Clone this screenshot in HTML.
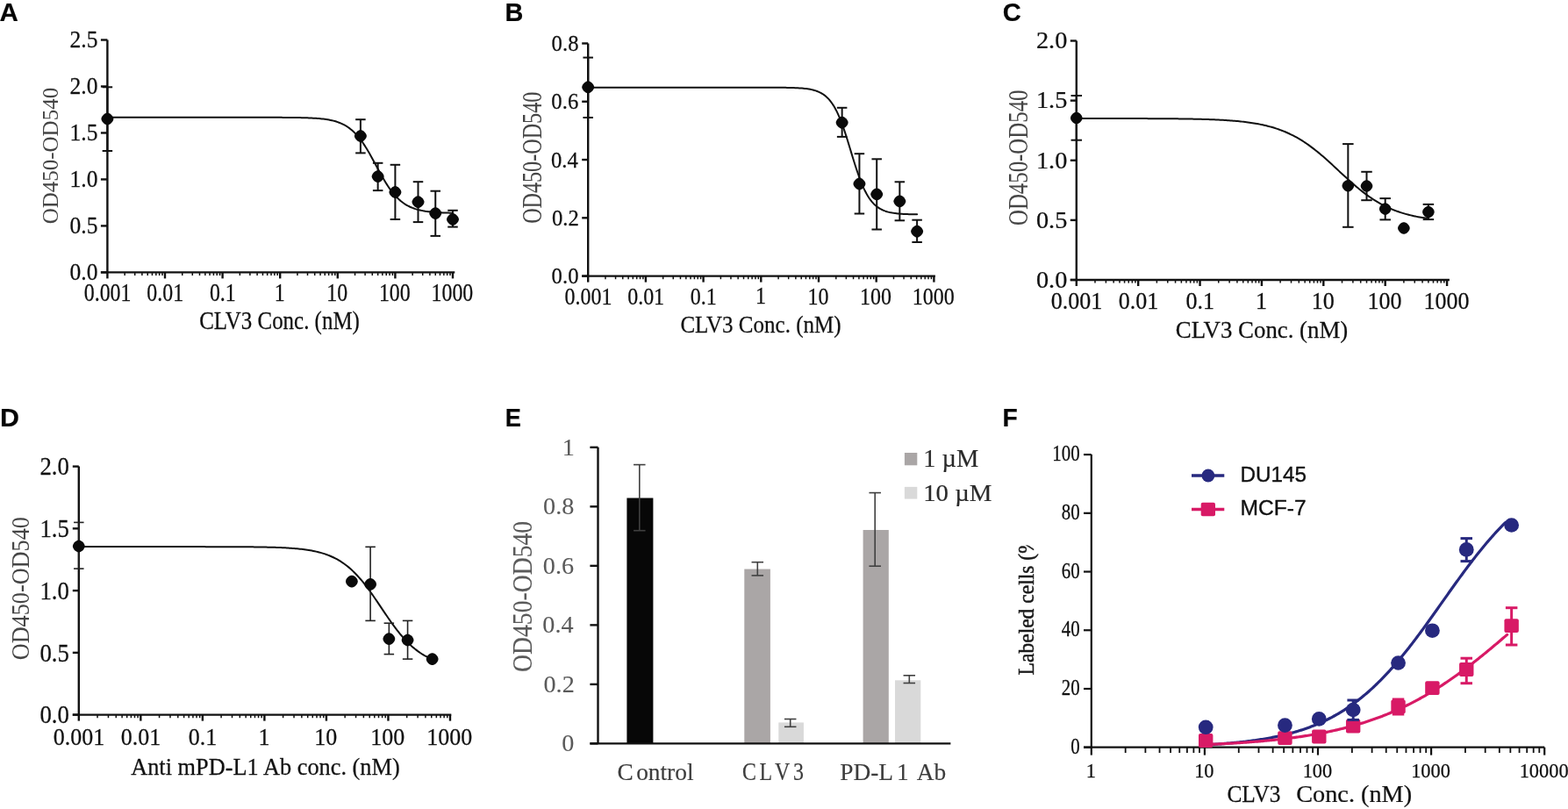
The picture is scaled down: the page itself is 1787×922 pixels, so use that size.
<!DOCTYPE html>
<html><head><meta charset="utf-8"><title>Figure</title>
<style>html,body{margin:0;padding:0;background:#fff;}svg{display:block;}</style></head>
<body><svg width="1787" height="922" viewBox="0 0 1787 922">
<rect width="1787" height="922" fill="#fff"/>
<text transform="matrix(0.29552 0 0 0.29855 -0.54 23.90)" font-family="Liberation Sans, sans-serif" font-weight="bold" font-size="100" fill="#050505" stroke="#050505" stroke-width="0.67" stroke-linejoin="round">A</text>
<text transform="matrix(0.28852 0 0 0.29710 575.62 23.90)" font-family="Liberation Sans, sans-serif" font-weight="bold" font-size="100" fill="#050505" stroke="#050505" stroke-width="0.68" stroke-linejoin="round">B</text>
<text transform="matrix(0.29160 0 0 0.30423 1142.63 24.40)" font-family="Liberation Sans, sans-serif" font-weight="bold" font-size="100" fill="#050505" stroke="#050505" stroke-width="0.67" stroke-linejoin="round">C</text>
<text transform="matrix(0.30407 0 0 0.29710 0.12 486.20)" font-family="Liberation Sans, sans-serif" font-weight="bold" font-size="100" fill="#050505" stroke="#050505" stroke-width="0.67" stroke-linejoin="round">D</text>
<text transform="matrix(0.27257 0 0 0.29420 575.83 486.20)" font-family="Liberation Sans, sans-serif" font-weight="bold" font-size="100" fill="#050505" stroke="#050505" stroke-width="0.71" stroke-linejoin="round">E</text>
<text transform="matrix(0.28235 0 0 0.29635 1142.46 486.35)" font-family="Liberation Sans, sans-serif" font-weight="bold" font-size="100" fill="#050505" stroke="#050505" stroke-width="0.69" stroke-linejoin="round">F</text>
<path d="M122.40,133.80 L124.04,133.80 L125.68,133.80 L127.32,133.80 L128.96,133.80 L130.60,133.80 L132.24,133.80 L133.88,133.80 L135.52,133.80 L137.16,133.80 L138.80,133.80 L140.44,133.80 L142.08,133.80 L143.72,133.80 L145.36,133.80 L147.00,133.80 L148.64,133.80 L150.28,133.80 L151.92,133.80 L153.56,133.80 L155.20,133.80 L156.84,133.80 L158.48,133.80 L160.12,133.80 L161.76,133.80 L163.40,133.80 L165.04,133.80 L166.68,133.80 L168.32,133.80 L169.96,133.80 L171.60,133.80 L173.24,133.80 L174.88,133.80 L176.52,133.80 L178.16,133.80 L179.80,133.80 L181.44,133.80 L183.08,133.80 L184.72,133.80 L186.36,133.80 L188.00,133.80 L189.64,133.80 L191.28,133.80 L192.92,133.80 L194.56,133.80 L196.20,133.80 L197.84,133.80 L199.48,133.80 L201.12,133.80 L202.76,133.80 L204.40,133.80 L206.04,133.80 L207.68,133.80 L209.32,133.80 L210.96,133.80 L212.60,133.80 L214.24,133.80 L215.88,133.80 L217.52,133.80 L219.16,133.80 L220.80,133.80 L222.44,133.80 L224.08,133.80 L225.72,133.80 L227.36,133.80 L229.00,133.80 L230.64,133.80 L232.28,133.80 L233.92,133.80 L235.56,133.80 L237.20,133.80 L238.84,133.80 L240.48,133.80 L242.12,133.80 L243.76,133.80 L245.40,133.80 L247.04,133.80 L248.68,133.80 L250.32,133.80 L251.96,133.80 L253.60,133.80 L255.24,133.80 L256.88,133.80 L258.52,133.80 L260.16,133.80 L261.80,133.80 L263.44,133.80 L265.08,133.80 L266.72,133.80 L268.36,133.80 L270.00,133.80 L271.64,133.80 L273.28,133.80 L274.92,133.80 L276.56,133.80 L278.20,133.80 L279.84,133.80 L281.48,133.80 L283.12,133.81 L284.76,133.81 L286.40,133.81 L288.04,133.81 L289.68,133.81 L291.32,133.81 L292.96,133.81 L294.60,133.81 L296.24,133.81 L297.88,133.81 L299.52,133.82 L301.16,133.82 L302.80,133.82 L304.44,133.82 L306.08,133.83 L307.72,133.83 L309.36,133.83 L311.00,133.84 L312.64,133.84 L314.28,133.85 L315.92,133.85 L317.56,133.86 L319.20,133.86 L320.84,133.87 L322.48,133.88 L324.12,133.89 L325.76,133.90 L327.40,133.91 L329.04,133.92 L330.68,133.94 L332.32,133.96 L333.96,133.97 L335.60,134.00 L337.24,134.02 L338.88,134.04 L340.52,134.07 L342.16,134.10 L343.80,134.14 L345.44,134.18 L347.08,134.23 L348.72,134.28 L350.36,134.33 L352.00,134.39 L353.64,134.46 L355.28,134.54 L356.92,134.63 L358.56,134.73 L360.20,134.83 L361.84,134.95 L363.48,135.09 L365.12,135.24 L366.76,135.41 L368.40,135.59 L370.04,135.80 L371.68,136.03 L373.32,136.29 L374.96,136.58 L376.60,136.90 L378.24,137.25 L379.88,137.65 L381.52,138.08 L383.16,138.57 L384.80,139.10 L386.44,139.70 L388.08,140.35 L389.72,141.07 L391.36,141.87 L393.00,142.74 L394.64,143.71 L396.28,144.76 L397.92,145.91 L399.56,147.17 L401.20,148.53 L402.84,150.01 L404.48,151.62 L406.12,153.34 L407.76,155.20 L409.40,157.19 L411.04,159.31 L412.68,161.55 L414.32,163.93 L415.96,166.42 L417.60,169.04 L419.24,171.75 L420.88,174.56 L422.52,177.45 L424.16,180.41 L425.80,183.41 L427.44,186.45 L429.08,189.50 L430.72,192.54 L432.36,195.55 L434.00,198.53 L435.64,201.44 L437.28,204.27 L438.92,207.01 L440.56,209.66 L442.20,212.18 L443.84,214.59 L445.48,216.88 L447.12,219.03 L448.76,221.06 L450.40,222.95 L452.04,224.71 L453.68,226.35 L455.32,227.87 L456.96,229.26 L458.60,230.55 L460.24,231.73 L461.88,232.81 L463.52,233.80 L465.16,234.69 L466.80,235.51 L468.44,236.25 L470.08,236.93 L471.72,237.54 L473.36,238.09 L475.00,238.59 L476.64,239.04 L478.28,239.44 L479.92,239.81 L481.56,240.13 L483.20,240.43 L484.84,240.70 L486.48,240.93 L488.12,241.15 L489.76,241.34 L491.40,241.51 L493.04,241.67 L494.68,241.81 L496.32,241.93 L497.96,242.05 L499.60,242.15 L501.24,242.23 L502.88,242.32 L504.52,242.39 L506.16,242.45 L507.80,242.51 L509.44,242.56 L511.08,242.61 L512.72,242.65 L514.36,242.69 L516.00,242.72" stroke="#111" stroke-width="2" fill="none" stroke-linejoin="round" stroke-linecap="round"/>
<line x1="122.4" y1="45.5" x2="122.4" y2="310.4" stroke="#111" stroke-width="2.4" stroke-linecap="butt"/>
<line x1="114.9" y1="310.4" x2="518.3" y2="310.4" stroke="#111" stroke-width="2.4" stroke-linecap="butt"/>
<line x1="114.9" y1="310.4" x2="122.4" y2="310.4" stroke="#111" stroke-width="2.4" stroke-linecap="butt"/>
<line x1="114.9" y1="257.42" x2="122.4" y2="257.42" stroke="#111" stroke-width="2.4" stroke-linecap="butt"/>
<line x1="114.9" y1="204.44" x2="122.4" y2="204.44" stroke="#111" stroke-width="2.4" stroke-linecap="butt"/>
<line x1="114.9" y1="151.46" x2="122.4" y2="151.46" stroke="#111" stroke-width="2.4" stroke-linecap="butt"/>
<line x1="114.9" y1="98.48" x2="122.4" y2="98.48" stroke="#111" stroke-width="2.4" stroke-linecap="butt"/>
<line x1="114.9" y1="45.5" x2="122.4" y2="45.5" stroke="#111" stroke-width="2.4" stroke-linecap="butt"/>
<line x1="122.4" y1="310.4" x2="122.4" y2="317.4" stroke="#111" stroke-width="2.4" stroke-linecap="butt"/>
<line x1="142.15" y1="310.4" x2="142.15" y2="314" stroke="#111" stroke-width="1.5" stroke-linecap="butt"/>
<line x1="153.7" y1="310.4" x2="153.7" y2="314" stroke="#111" stroke-width="1.5" stroke-linecap="butt"/>
<line x1="161.9" y1="310.4" x2="161.9" y2="314" stroke="#111" stroke-width="1.5" stroke-linecap="butt"/>
<line x1="168.25" y1="310.4" x2="168.25" y2="314" stroke="#111" stroke-width="1.5" stroke-linecap="butt"/>
<line x1="173.45" y1="310.4" x2="173.45" y2="314" stroke="#111" stroke-width="1.5" stroke-linecap="butt"/>
<line x1="177.84" y1="310.4" x2="177.84" y2="314" stroke="#111" stroke-width="1.5" stroke-linecap="butt"/>
<line x1="181.64" y1="310.4" x2="181.64" y2="314" stroke="#111" stroke-width="1.5" stroke-linecap="butt"/>
<line x1="185" y1="310.4" x2="185" y2="314" stroke="#111" stroke-width="1.5" stroke-linecap="butt"/>
<line x1="188" y1="310.4" x2="188" y2="317.4" stroke="#111" stroke-width="2.4" stroke-linecap="butt"/>
<line x1="207.75" y1="310.4" x2="207.75" y2="314" stroke="#111" stroke-width="1.5" stroke-linecap="butt"/>
<line x1="219.3" y1="310.4" x2="219.3" y2="314" stroke="#111" stroke-width="1.5" stroke-linecap="butt"/>
<line x1="227.5" y1="310.4" x2="227.5" y2="314" stroke="#111" stroke-width="1.5" stroke-linecap="butt"/>
<line x1="233.85" y1="310.4" x2="233.85" y2="314" stroke="#111" stroke-width="1.5" stroke-linecap="butt"/>
<line x1="239.05" y1="310.4" x2="239.05" y2="314" stroke="#111" stroke-width="1.5" stroke-linecap="butt"/>
<line x1="243.44" y1="310.4" x2="243.44" y2="314" stroke="#111" stroke-width="1.5" stroke-linecap="butt"/>
<line x1="247.24" y1="310.4" x2="247.24" y2="314" stroke="#111" stroke-width="1.5" stroke-linecap="butt"/>
<line x1="250.6" y1="310.4" x2="250.6" y2="314" stroke="#111" stroke-width="1.5" stroke-linecap="butt"/>
<line x1="253.6" y1="310.4" x2="253.6" y2="317.4" stroke="#111" stroke-width="2.4" stroke-linecap="butt"/>
<line x1="273.35" y1="310.4" x2="273.35" y2="314" stroke="#111" stroke-width="1.5" stroke-linecap="butt"/>
<line x1="284.9" y1="310.4" x2="284.9" y2="314" stroke="#111" stroke-width="1.5" stroke-linecap="butt"/>
<line x1="293.1" y1="310.4" x2="293.1" y2="314" stroke="#111" stroke-width="1.5" stroke-linecap="butt"/>
<line x1="299.45" y1="310.4" x2="299.45" y2="314" stroke="#111" stroke-width="1.5" stroke-linecap="butt"/>
<line x1="304.65" y1="310.4" x2="304.65" y2="314" stroke="#111" stroke-width="1.5" stroke-linecap="butt"/>
<line x1="309.04" y1="310.4" x2="309.04" y2="314" stroke="#111" stroke-width="1.5" stroke-linecap="butt"/>
<line x1="312.84" y1="310.4" x2="312.84" y2="314" stroke="#111" stroke-width="1.5" stroke-linecap="butt"/>
<line x1="316.2" y1="310.4" x2="316.2" y2="314" stroke="#111" stroke-width="1.5" stroke-linecap="butt"/>
<line x1="319.2" y1="310.4" x2="319.2" y2="317.4" stroke="#111" stroke-width="2.4" stroke-linecap="butt"/>
<line x1="338.95" y1="310.4" x2="338.95" y2="314" stroke="#111" stroke-width="1.5" stroke-linecap="butt"/>
<line x1="350.5" y1="310.4" x2="350.5" y2="314" stroke="#111" stroke-width="1.5" stroke-linecap="butt"/>
<line x1="358.7" y1="310.4" x2="358.7" y2="314" stroke="#111" stroke-width="1.5" stroke-linecap="butt"/>
<line x1="365.05" y1="310.4" x2="365.05" y2="314" stroke="#111" stroke-width="1.5" stroke-linecap="butt"/>
<line x1="370.25" y1="310.4" x2="370.25" y2="314" stroke="#111" stroke-width="1.5" stroke-linecap="butt"/>
<line x1="374.64" y1="310.4" x2="374.64" y2="314" stroke="#111" stroke-width="1.5" stroke-linecap="butt"/>
<line x1="378.44" y1="310.4" x2="378.44" y2="314" stroke="#111" stroke-width="1.5" stroke-linecap="butt"/>
<line x1="381.8" y1="310.4" x2="381.8" y2="314" stroke="#111" stroke-width="1.5" stroke-linecap="butt"/>
<line x1="384.8" y1="310.4" x2="384.8" y2="317.4" stroke="#111" stroke-width="2.4" stroke-linecap="butt"/>
<line x1="404.55" y1="310.4" x2="404.55" y2="314" stroke="#111" stroke-width="1.5" stroke-linecap="butt"/>
<line x1="416.1" y1="310.4" x2="416.1" y2="314" stroke="#111" stroke-width="1.5" stroke-linecap="butt"/>
<line x1="424.3" y1="310.4" x2="424.3" y2="314" stroke="#111" stroke-width="1.5" stroke-linecap="butt"/>
<line x1="430.65" y1="310.4" x2="430.65" y2="314" stroke="#111" stroke-width="1.5" stroke-linecap="butt"/>
<line x1="435.85" y1="310.4" x2="435.85" y2="314" stroke="#111" stroke-width="1.5" stroke-linecap="butt"/>
<line x1="440.24" y1="310.4" x2="440.24" y2="314" stroke="#111" stroke-width="1.5" stroke-linecap="butt"/>
<line x1="444.04" y1="310.4" x2="444.04" y2="314" stroke="#111" stroke-width="1.5" stroke-linecap="butt"/>
<line x1="447.4" y1="310.4" x2="447.4" y2="314" stroke="#111" stroke-width="1.5" stroke-linecap="butt"/>
<line x1="450.4" y1="310.4" x2="450.4" y2="317.4" stroke="#111" stroke-width="2.4" stroke-linecap="butt"/>
<line x1="470.15" y1="310.4" x2="470.15" y2="314" stroke="#111" stroke-width="1.5" stroke-linecap="butt"/>
<line x1="481.7" y1="310.4" x2="481.7" y2="314" stroke="#111" stroke-width="1.5" stroke-linecap="butt"/>
<line x1="489.9" y1="310.4" x2="489.9" y2="314" stroke="#111" stroke-width="1.5" stroke-linecap="butt"/>
<line x1="496.25" y1="310.4" x2="496.25" y2="314" stroke="#111" stroke-width="1.5" stroke-linecap="butt"/>
<line x1="501.45" y1="310.4" x2="501.45" y2="314" stroke="#111" stroke-width="1.5" stroke-linecap="butt"/>
<line x1="505.84" y1="310.4" x2="505.84" y2="314" stroke="#111" stroke-width="1.5" stroke-linecap="butt"/>
<line x1="509.64" y1="310.4" x2="509.64" y2="314" stroke="#111" stroke-width="1.5" stroke-linecap="butt"/>
<line x1="513" y1="310.4" x2="513" y2="314" stroke="#111" stroke-width="1.5" stroke-linecap="butt"/>
<line x1="516" y1="310.4" x2="516" y2="317.4" stroke="#111" stroke-width="2.4" stroke-linecap="butt"/>
<line x1="122.4" y1="99.3" x2="122.4" y2="172" stroke="#111" stroke-width="2" stroke-linecap="butt"/>
<line x1="116.65" y1="99.3" x2="128.15" y2="99.3" stroke="#111" stroke-width="2" stroke-linecap="butt"/>
<line x1="116.65" y1="172" x2="128.15" y2="172" stroke="#111" stroke-width="2" stroke-linecap="butt"/>
<line x1="410.9" y1="136.2" x2="410.9" y2="174.4" stroke="#111" stroke-width="2" stroke-linecap="butt"/>
<line x1="405.15" y1="136.2" x2="416.65" y2="136.2" stroke="#111" stroke-width="2" stroke-linecap="butt"/>
<line x1="405.15" y1="174.4" x2="416.65" y2="174.4" stroke="#111" stroke-width="2" stroke-linecap="butt"/>
<line x1="430.65" y1="185.8" x2="430.65" y2="217.1" stroke="#111" stroke-width="2" stroke-linecap="butt"/>
<line x1="424.9" y1="185.8" x2="436.4" y2="185.8" stroke="#111" stroke-width="2" stroke-linecap="butt"/>
<line x1="424.9" y1="217.1" x2="436.4" y2="217.1" stroke="#111" stroke-width="2" stroke-linecap="butt"/>
<line x1="450.4" y1="187.8" x2="450.4" y2="250" stroke="#111" stroke-width="2" stroke-linecap="butt"/>
<line x1="444.65" y1="187.8" x2="456.15" y2="187.8" stroke="#111" stroke-width="2" stroke-linecap="butt"/>
<line x1="444.65" y1="250" x2="456.15" y2="250" stroke="#111" stroke-width="2" stroke-linecap="butt"/>
<line x1="476.5" y1="207.2" x2="476.5" y2="253.1" stroke="#111" stroke-width="2" stroke-linecap="butt"/>
<line x1="470.75" y1="207.2" x2="482.25" y2="207.2" stroke="#111" stroke-width="2" stroke-linecap="butt"/>
<line x1="470.75" y1="253.1" x2="482.25" y2="253.1" stroke="#111" stroke-width="2" stroke-linecap="butt"/>
<line x1="496.25" y1="217.7" x2="496.25" y2="268.9" stroke="#111" stroke-width="2" stroke-linecap="butt"/>
<line x1="490.5" y1="217.7" x2="502" y2="217.7" stroke="#111" stroke-width="2" stroke-linecap="butt"/>
<line x1="490.5" y1="268.9" x2="502" y2="268.9" stroke="#111" stroke-width="2" stroke-linecap="butt"/>
<line x1="516" y1="239.8" x2="516" y2="258.6" stroke="#111" stroke-width="2" stroke-linecap="butt"/>
<line x1="510.25" y1="239.8" x2="521.75" y2="239.8" stroke="#111" stroke-width="2" stroke-linecap="butt"/>
<line x1="510.25" y1="258.6" x2="521.75" y2="258.6" stroke="#111" stroke-width="2" stroke-linecap="butt"/>
<path d="M129.40,135.50 L129.33,136.09 L129.11,136.86 L128.76,137.68 L128.28,138.52 L127.69,139.34 L127.00,140.10 L126.24,140.79 L125.42,141.38 L124.58,141.86 L123.76,142.21 L122.99,142.43 L122.40,142.50 L121.81,142.43 L121.04,142.21 L120.22,141.86 L119.38,141.38 L118.56,140.79 L117.80,140.10 L117.11,139.34 L116.52,138.52 L116.04,137.68 L115.69,136.86 L115.47,136.09 L115.40,135.50 L115.47,134.91 L115.69,134.14 L116.04,133.32 L116.52,132.48 L117.11,131.66 L117.80,130.90 L118.56,130.21 L119.38,129.62 L120.22,129.14 L121.04,128.79 L121.81,128.57 L122.40,128.50 L122.99,128.57 L123.76,128.79 L124.58,129.14 L125.42,129.62 L126.24,130.21 L127.00,130.90 L127.69,131.66 L128.28,132.48 L128.76,133.32 L129.11,134.14 L129.33,134.91Z" fill="#0a0a0a"/>
<path d="M417.90,155.00 L417.83,155.59 L417.62,156.36 L417.26,157.18 L416.78,158.02 L416.19,158.84 L415.50,159.60 L414.74,160.29 L413.93,160.88 L413.09,161.36 L412.26,161.71 L411.50,161.93 L410.90,162.00 L410.31,161.93 L409.54,161.71 L408.72,161.36 L407.88,160.88 L407.07,160.29 L406.31,159.60 L405.62,158.84 L405.02,158.02 L404.55,157.18 L404.19,156.36 L403.98,155.59 L403.90,155.00 L403.98,154.41 L404.19,153.64 L404.55,152.82 L405.02,151.98 L405.62,151.16 L406.31,150.40 L407.07,149.71 L407.88,149.12 L408.72,148.64 L409.54,148.29 L410.31,148.07 L410.90,148.00 L411.50,148.07 L412.26,148.29 L413.09,148.64 L413.93,149.12 L414.74,149.71 L415.50,150.40 L416.19,151.16 L416.78,151.98 L417.26,152.82 L417.62,153.64 L417.83,154.41Z" fill="#0a0a0a"/>
<path d="M437.65,201.10 L437.58,201.69 L437.36,202.46 L437.01,203.28 L436.53,204.12 L435.94,204.94 L435.25,205.70 L434.49,206.39 L433.67,206.98 L432.84,207.46 L432.01,207.81 L431.25,208.03 L430.65,208.10 L430.06,208.03 L429.29,207.81 L428.47,207.46 L427.63,206.98 L426.82,206.39 L426.05,205.70 L425.37,204.94 L424.77,204.12 L424.29,203.28 L423.94,202.46 L423.72,201.69 L423.65,201.10 L423.72,200.51 L423.94,199.74 L424.29,198.92 L424.77,198.08 L425.37,197.26 L426.05,196.50 L426.82,195.81 L427.63,195.22 L428.47,194.74 L429.29,194.39 L430.06,194.17 L430.65,194.10 L431.25,194.17 L432.01,194.39 L432.84,194.74 L433.67,195.22 L434.49,195.81 L435.25,196.50 L435.94,197.26 L436.53,198.08 L437.01,198.92 L437.36,199.74 L437.58,200.51Z" fill="#0a0a0a"/>
<path d="M457.40,219.00 L457.33,219.59 L457.11,220.36 L456.76,221.18 L456.28,222.02 L455.69,222.84 L455.00,223.60 L454.24,224.29 L453.42,224.88 L452.58,225.36 L451.76,225.71 L450.99,225.93 L450.40,226.00 L449.81,225.93 L449.04,225.71 L448.22,225.36 L447.38,224.88 L446.56,224.29 L445.80,223.60 L445.11,222.84 L444.52,222.02 L444.04,221.18 L443.69,220.36 L443.47,219.59 L443.40,219.00 L443.47,218.41 L443.69,217.64 L444.04,216.82 L444.52,215.98 L445.11,215.16 L445.80,214.40 L446.56,213.71 L447.38,213.12 L448.22,212.64 L449.04,212.29 L449.81,212.07 L450.40,212.00 L450.99,212.07 L451.76,212.29 L452.58,212.64 L453.42,213.12 L454.24,213.71 L455.00,214.40 L455.69,215.16 L456.28,215.98 L456.76,216.82 L457.11,217.64 L457.33,218.41Z" fill="#0a0a0a"/>
<path d="M483.50,230.20 L483.43,230.79 L483.22,231.56 L482.86,232.38 L482.38,233.22 L481.79,234.04 L481.10,234.80 L480.34,235.49 L479.53,236.08 L478.69,236.56 L477.86,236.91 L477.10,237.13 L476.50,237.20 L475.91,237.13 L475.14,236.91 L474.32,236.56 L473.48,236.08 L472.67,235.49 L471.91,234.80 L471.22,234.04 L470.62,233.22 L470.15,232.38 L469.79,231.56 L469.58,230.79 L469.50,230.20 L469.58,229.61 L469.79,228.84 L470.15,228.02 L470.62,227.18 L471.22,226.36 L471.91,225.60 L472.67,224.91 L473.48,224.32 L474.32,223.84 L475.14,223.49 L475.91,223.27 L476.50,223.20 L477.10,223.27 L477.86,223.49 L478.69,223.84 L479.53,224.32 L480.34,224.91 L481.10,225.60 L481.79,226.36 L482.38,227.18 L482.86,228.02 L483.22,228.84 L483.43,229.61Z" fill="#0a0a0a"/>
<path d="M503.25,243.10 L503.18,243.69 L502.96,244.46 L502.61,245.28 L502.13,246.12 L501.54,246.94 L500.85,247.70 L500.09,248.39 L499.27,248.98 L498.44,249.46 L497.61,249.81 L496.85,250.03 L496.25,250.10 L495.66,250.03 L494.89,249.81 L494.07,249.46 L493.23,248.98 L492.42,248.39 L491.65,247.70 L490.97,246.94 L490.37,246.12 L489.89,245.28 L489.54,244.46 L489.32,243.69 L489.25,243.10 L489.32,242.51 L489.54,241.74 L489.89,240.92 L490.37,240.08 L490.97,239.26 L491.65,238.50 L492.42,237.81 L493.23,237.22 L494.07,236.74 L494.89,236.39 L495.66,236.17 L496.25,236.10 L496.85,236.17 L497.61,236.39 L498.44,236.74 L499.27,237.22 L500.09,237.81 L500.85,238.50 L501.54,239.26 L502.13,240.08 L502.61,240.92 L502.96,241.74 L503.18,242.51Z" fill="#0a0a0a"/>
<path d="M523.00,250.00 L522.93,250.59 L522.71,251.36 L522.36,252.18 L521.88,253.02 L521.29,253.84 L520.60,254.60 L519.84,255.29 L519.02,255.88 L518.18,256.36 L517.36,256.71 L516.59,256.93 L516.00,257.00 L515.41,256.93 L514.64,256.71 L513.82,256.36 L512.98,255.88 L512.16,255.29 L511.40,254.60 L510.71,253.84 L510.12,253.02 L509.64,252.18 L509.29,251.36 L509.07,250.59 L509.00,250.00 L509.07,249.41 L509.29,248.64 L509.64,247.82 L510.12,246.98 L510.71,246.16 L511.40,245.40 L512.16,244.71 L512.98,244.12 L513.82,243.64 L514.64,243.29 L515.41,243.07 L516.00,243.00 L516.59,243.07 L517.36,243.29 L518.18,243.64 L519.02,244.12 L519.84,244.71 L520.60,245.40 L521.29,246.16 L521.88,246.98 L522.36,247.82 L522.71,248.64 L522.93,249.41Z" fill="#0a0a0a"/>
<text transform="matrix(0.25536 0 0 0.26765 79.60 319.10)" font-family="Liberation Serif, serif" font-size="100" fill="#111" stroke="#111" stroke-width="0.96" stroke-linejoin="round">0.0</text>
<text transform="matrix(0.25536 0 0 0.26765 79.60 266.12)" font-family="Liberation Serif, serif" font-size="100" fill="#111" stroke="#111" stroke-width="0.96" stroke-linejoin="round">0.5</text>
<text transform="matrix(0.25536 0 0 0.26765 79.60 213.14)" font-family="Liberation Serif, serif" font-size="100" fill="#111" stroke="#111" stroke-width="0.96" stroke-linejoin="round">1.0</text>
<text transform="matrix(0.25536 0 0 0.26765 79.60 160.02)" font-family="Liberation Serif, serif" font-size="100" fill="#111" stroke="#111" stroke-width="0.96" stroke-linejoin="round">1.5</text>
<text transform="matrix(0.25536 0 0 0.26765 79.60 107.18)" font-family="Liberation Serif, serif" font-size="100" fill="#111" stroke="#111" stroke-width="0.96" stroke-linejoin="round">2.0</text>
<text transform="matrix(0.25536 0 0 0.26765 79.60 54.13)" font-family="Liberation Serif, serif" font-size="100" fill="#111" stroke="#111" stroke-width="0.96" stroke-linejoin="round">2.5</text>
<text transform="matrix(0.23869 0 0 0.29185 95.79 343.01)" font-family="Liberation Serif, serif" font-size="100" fill="#111" stroke="#111" stroke-width="0.95" stroke-linejoin="round">0.001</text>
<text transform="matrix(0.23869 0 0 0.29185 167.35 343.01)" font-family="Liberation Serif, serif" font-size="100" fill="#111" stroke="#111" stroke-width="0.95" stroke-linejoin="round">0.01</text>
<text transform="matrix(0.23869 0 0 0.29185 238.92 343.01)" font-family="Liberation Serif, serif" font-size="100" fill="#111" stroke="#111" stroke-width="0.95" stroke-linejoin="round">0.1</text>
<text transform="matrix(0.23869 0 0 0.29185 312.87 342.72)" font-family="Liberation Serif, serif" font-size="100" fill="#111" stroke="#111" stroke-width="0.95" stroke-linejoin="round">1</text>
<text transform="matrix(0.23869 0 0 0.29185 372.27 343.01)" font-family="Liberation Serif, serif" font-size="100" fill="#111" stroke="#111" stroke-width="0.95" stroke-linejoin="round">10</text>
<text transform="matrix(0.23869 0 0 0.29185 431.90 343.01)" font-family="Liberation Serif, serif" font-size="100" fill="#111" stroke="#111" stroke-width="0.95" stroke-linejoin="round">100</text>
<text transform="matrix(0.23869 0 0 0.29185 491.53 343.01)" font-family="Liberation Serif, serif" font-size="100" fill="#111" stroke="#111" stroke-width="0.95" stroke-linejoin="round">1000</text>
<text transform="matrix(0 -0.24996 0.25185 0 65.55 255.30)" font-family="Liberation Serif, serif" font-size="100" fill="#454545">OD450-OD540</text>
<text transform="matrix(0.24945 0 0 0.28741 227.20 375.47)" font-family="Liberation Serif, serif" font-size="100" fill="#111" stroke="#111" stroke-width="0.93" stroke-linejoin="round">CLV3 Conc. (nM)</text>
<path d="M670.20,99.70 L671.76,99.70 L673.32,99.70 L674.88,99.70 L676.44,99.70 L678.50,99.70 L680.06,99.70 L681.62,99.70 L683.18,99.70 L684.74,99.70 L686.30,99.70 L687.86,99.70 L689.42,99.70 L690.98,99.70 L692.54,99.70 L694.10,99.70 L695.66,99.70 L697.22,99.70 L698.78,99.70 L700.34,99.70 L701.90,99.70 L703.46,99.70 L705.02,99.70 L706.58,99.70 L708.14,99.70 L709.70,99.70 L711.26,99.70 L712.82,99.70 L714.38,99.70 L715.94,99.70 L717.50,99.70 L719.06,99.70 L720.62,99.70 L722.18,99.70 L723.74,99.70 L725.30,99.70 L726.86,99.70 L728.42,99.70 L729.98,99.70 L731.54,99.70 L733.10,99.70 L734.66,99.70 L736.22,99.70 L737.78,99.70 L739.34,99.70 L740.90,99.70 L742.46,99.70 L744.02,99.70 L745.58,99.70 L747.14,99.70 L748.70,99.70 L750.26,99.70 L751.82,99.70 L753.38,99.70 L754.95,99.70 L756.51,99.70 L758.07,99.70 L759.63,99.70 L761.19,99.70 L762.75,99.70 L764.31,99.70 L765.87,99.70 L767.43,99.70 L768.99,99.70 L770.55,99.70 L772.11,99.70 L773.67,99.70 L775.23,99.70 L776.79,99.70 L778.35,99.70 L779.91,99.70 L781.47,99.70 L783.03,99.70 L784.59,99.70 L786.15,99.70 L787.71,99.70 L789.27,99.70 L790.83,99.70 L792.39,99.70 L793.95,99.70 L795.51,99.70 L797.07,99.70 L798.63,99.70 L800.19,99.70 L801.75,99.70 L803.31,99.70 L804.87,99.70 L806.43,99.70 L807.99,99.70 L809.55,99.70 L811.11,99.70 L812.67,99.70 L814.23,99.70 L815.79,99.70 L817.35,99.70 L818.91,99.70 L820.47,99.70 L822.03,99.70 L823.59,99.70 L825.15,99.70 L826.71,99.70 L828.27,99.70 L829.83,99.70 L831.39,99.70 L832.95,99.70 L834.51,99.70 L836.07,99.70 L837.63,99.70 L839.19,99.70 L840.75,99.70 L842.31,99.70 L843.87,99.70 L845.43,99.70 L846.99,99.70 L848.55,99.70 L850.11,99.70 L851.67,99.70 L853.23,99.70 L854.79,99.70 L856.35,99.70 L857.91,99.71 L859.47,99.71 L861.03,99.71 L862.59,99.71 L864.15,99.71 L865.71,99.71 L867.27,99.71 L868.83,99.71 L870.39,99.72 L871.95,99.72 L873.51,99.72 L875.07,99.73 L876.63,99.73 L878.19,99.73 L879.75,99.74 L881.31,99.75 L882.87,99.75 L884.43,99.76 L885.99,99.77 L887.55,99.78 L889.11,99.79 L890.67,99.81 L892.23,99.83 L893.79,99.84 L895.35,99.87 L896.91,99.89 L898.47,99.92 L900.03,99.95 L901.59,99.99 L903.15,100.04 L904.71,100.09 L906.27,100.15 L907.83,100.22 L909.39,100.30 L910.95,100.39 L912.51,100.49 L914.07,100.61 L915.63,100.75 L917.19,100.91 L918.75,101.09 L920.31,101.30 L921.87,101.54 L923.44,101.82 L925.00,102.14 L926.56,102.50 L928.12,102.92 L929.68,103.40 L931.24,103.95 L932.80,104.58 L934.36,105.29 L935.92,106.11 L937.48,107.04 L939.04,108.09 L940.60,109.29 L942.16,110.64 L943.72,112.17 L945.28,113.89 L946.84,115.82 L948.40,117.97 L949.96,120.36 L951.52,123.01 L953.08,125.93 L954.64,129.12 L956.20,132.59 L957.76,136.34 L959.32,140.37 L960.88,144.65 L962.44,149.17 L964.00,153.90 L965.56,158.80 L967.12,163.83 L968.68,168.94 L970.24,174.09 L971.80,179.21 L973.36,184.26 L974.92,189.20 L976.48,193.97 L978.04,198.54 L979.60,202.88 L981.16,206.97 L982.72,210.78 L984.28,214.32 L985.84,217.57 L987.40,220.55 L988.96,223.26 L990.52,225.71 L992.08,227.91 L993.64,229.89 L995.20,231.65 L996.76,233.22 L998.32,234.62 L999.88,235.85 L1001.44,236.93 L1003.00,237.89 L1004.56,238.73 L1006.12,239.47 L1007.68,240.12 L1009.24,240.68 L1010.80,241.18 L1012.36,241.61 L1013.92,241.98 L1015.48,242.31 L1017.04,242.60 L1018.60,242.85 L1020.16,243.06 L1021.72,243.25 L1023.28,243.42 L1024.84,243.56 L1026.40,243.68 L1027.96,243.79 L1029.52,243.88 L1031.08,243.97 L1032.64,244.04 L1034.20,244.10 L1035.76,244.15 L1037.32,244.20 L1038.88,244.24 L1040.44,244.27 L1042.00,244.30 L1043.56,244.33 L1045.12,244.35" stroke="#111" stroke-width="2" fill="none" stroke-linejoin="round" stroke-linecap="round"/>
<line x1="670.2" y1="49.5" x2="670.2" y2="314.6" stroke="#111" stroke-width="2.4" stroke-linecap="butt"/>
<line x1="663.2" y1="314.6" x2="1065.9" y2="314.6" stroke="#111" stroke-width="2.4" stroke-linecap="butt"/>
<line x1="663.2" y1="314.6" x2="670.2" y2="314.6" stroke="#111" stroke-width="2.4" stroke-linecap="butt"/>
<line x1="663.2" y1="248.32" x2="670.2" y2="248.32" stroke="#111" stroke-width="2.4" stroke-linecap="butt"/>
<line x1="663.2" y1="182.04" x2="670.2" y2="182.04" stroke="#111" stroke-width="2.4" stroke-linecap="butt"/>
<line x1="663.2" y1="115.76" x2="670.2" y2="115.76" stroke="#111" stroke-width="2.4" stroke-linecap="butt"/>
<line x1="663.2" y1="49.48" x2="670.2" y2="49.48" stroke="#111" stroke-width="2.4" stroke-linecap="butt"/>
<line x1="670.2" y1="314.6" x2="670.2" y2="321.6" stroke="#111" stroke-width="2.4" stroke-linecap="butt"/>
<line x1="689.98" y1="314.6" x2="689.98" y2="318.2" stroke="#111" stroke-width="1.5" stroke-linecap="butt"/>
<line x1="701.55" y1="314.6" x2="701.55" y2="318.2" stroke="#111" stroke-width="1.5" stroke-linecap="butt"/>
<line x1="709.76" y1="314.6" x2="709.76" y2="318.2" stroke="#111" stroke-width="1.5" stroke-linecap="butt"/>
<line x1="716.12" y1="314.6" x2="716.12" y2="318.2" stroke="#111" stroke-width="1.5" stroke-linecap="butt"/>
<line x1="721.32" y1="314.6" x2="721.32" y2="318.2" stroke="#111" stroke-width="1.5" stroke-linecap="butt"/>
<line x1="725.72" y1="314.6" x2="725.72" y2="318.2" stroke="#111" stroke-width="1.5" stroke-linecap="butt"/>
<line x1="729.53" y1="314.6" x2="729.53" y2="318.2" stroke="#111" stroke-width="1.5" stroke-linecap="butt"/>
<line x1="732.89" y1="314.6" x2="732.89" y2="318.2" stroke="#111" stroke-width="1.5" stroke-linecap="butt"/>
<line x1="735.9" y1="314.6" x2="735.9" y2="321.6" stroke="#111" stroke-width="2.4" stroke-linecap="butt"/>
<line x1="755.68" y1="314.6" x2="755.68" y2="318.2" stroke="#111" stroke-width="1.5" stroke-linecap="butt"/>
<line x1="767.25" y1="314.6" x2="767.25" y2="318.2" stroke="#111" stroke-width="1.5" stroke-linecap="butt"/>
<line x1="775.46" y1="314.6" x2="775.46" y2="318.2" stroke="#111" stroke-width="1.5" stroke-linecap="butt"/>
<line x1="781.82" y1="314.6" x2="781.82" y2="318.2" stroke="#111" stroke-width="1.5" stroke-linecap="butt"/>
<line x1="787.02" y1="314.6" x2="787.02" y2="318.2" stroke="#111" stroke-width="1.5" stroke-linecap="butt"/>
<line x1="791.42" y1="314.6" x2="791.42" y2="318.2" stroke="#111" stroke-width="1.5" stroke-linecap="butt"/>
<line x1="795.23" y1="314.6" x2="795.23" y2="318.2" stroke="#111" stroke-width="1.5" stroke-linecap="butt"/>
<line x1="798.59" y1="314.6" x2="798.59" y2="318.2" stroke="#111" stroke-width="1.5" stroke-linecap="butt"/>
<line x1="801.6" y1="314.6" x2="801.6" y2="321.6" stroke="#111" stroke-width="2.4" stroke-linecap="butt"/>
<line x1="821.38" y1="314.6" x2="821.38" y2="318.2" stroke="#111" stroke-width="1.5" stroke-linecap="butt"/>
<line x1="832.95" y1="314.6" x2="832.95" y2="318.2" stroke="#111" stroke-width="1.5" stroke-linecap="butt"/>
<line x1="841.16" y1="314.6" x2="841.16" y2="318.2" stroke="#111" stroke-width="1.5" stroke-linecap="butt"/>
<line x1="847.52" y1="314.6" x2="847.52" y2="318.2" stroke="#111" stroke-width="1.5" stroke-linecap="butt"/>
<line x1="852.72" y1="314.6" x2="852.72" y2="318.2" stroke="#111" stroke-width="1.5" stroke-linecap="butt"/>
<line x1="857.12" y1="314.6" x2="857.12" y2="318.2" stroke="#111" stroke-width="1.5" stroke-linecap="butt"/>
<line x1="860.93" y1="314.6" x2="860.93" y2="318.2" stroke="#111" stroke-width="1.5" stroke-linecap="butt"/>
<line x1="864.29" y1="314.6" x2="864.29" y2="318.2" stroke="#111" stroke-width="1.5" stroke-linecap="butt"/>
<line x1="867.3" y1="314.6" x2="867.3" y2="321.6" stroke="#111" stroke-width="2.4" stroke-linecap="butt"/>
<line x1="887.08" y1="314.6" x2="887.08" y2="318.2" stroke="#111" stroke-width="1.5" stroke-linecap="butt"/>
<line x1="898.65" y1="314.6" x2="898.65" y2="318.2" stroke="#111" stroke-width="1.5" stroke-linecap="butt"/>
<line x1="906.86" y1="314.6" x2="906.86" y2="318.2" stroke="#111" stroke-width="1.5" stroke-linecap="butt"/>
<line x1="913.22" y1="314.6" x2="913.22" y2="318.2" stroke="#111" stroke-width="1.5" stroke-linecap="butt"/>
<line x1="918.42" y1="314.6" x2="918.42" y2="318.2" stroke="#111" stroke-width="1.5" stroke-linecap="butt"/>
<line x1="922.82" y1="314.6" x2="922.82" y2="318.2" stroke="#111" stroke-width="1.5" stroke-linecap="butt"/>
<line x1="926.63" y1="314.6" x2="926.63" y2="318.2" stroke="#111" stroke-width="1.5" stroke-linecap="butt"/>
<line x1="929.99" y1="314.6" x2="929.99" y2="318.2" stroke="#111" stroke-width="1.5" stroke-linecap="butt"/>
<line x1="933" y1="314.6" x2="933" y2="321.6" stroke="#111" stroke-width="2.4" stroke-linecap="butt"/>
<line x1="952.78" y1="314.6" x2="952.78" y2="318.2" stroke="#111" stroke-width="1.5" stroke-linecap="butt"/>
<line x1="964.35" y1="314.6" x2="964.35" y2="318.2" stroke="#111" stroke-width="1.5" stroke-linecap="butt"/>
<line x1="972.56" y1="314.6" x2="972.56" y2="318.2" stroke="#111" stroke-width="1.5" stroke-linecap="butt"/>
<line x1="978.92" y1="314.6" x2="978.92" y2="318.2" stroke="#111" stroke-width="1.5" stroke-linecap="butt"/>
<line x1="984.12" y1="314.6" x2="984.12" y2="318.2" stroke="#111" stroke-width="1.5" stroke-linecap="butt"/>
<line x1="988.52" y1="314.6" x2="988.52" y2="318.2" stroke="#111" stroke-width="1.5" stroke-linecap="butt"/>
<line x1="992.33" y1="314.6" x2="992.33" y2="318.2" stroke="#111" stroke-width="1.5" stroke-linecap="butt"/>
<line x1="995.69" y1="314.6" x2="995.69" y2="318.2" stroke="#111" stroke-width="1.5" stroke-linecap="butt"/>
<line x1="998.7" y1="314.6" x2="998.7" y2="321.6" stroke="#111" stroke-width="2.4" stroke-linecap="butt"/>
<line x1="1018.48" y1="314.6" x2="1018.48" y2="318.2" stroke="#111" stroke-width="1.5" stroke-linecap="butt"/>
<line x1="1030.05" y1="314.6" x2="1030.05" y2="318.2" stroke="#111" stroke-width="1.5" stroke-linecap="butt"/>
<line x1="1038.26" y1="314.6" x2="1038.26" y2="318.2" stroke="#111" stroke-width="1.5" stroke-linecap="butt"/>
<line x1="1044.62" y1="314.6" x2="1044.62" y2="318.2" stroke="#111" stroke-width="1.5" stroke-linecap="butt"/>
<line x1="1049.82" y1="314.6" x2="1049.82" y2="318.2" stroke="#111" stroke-width="1.5" stroke-linecap="butt"/>
<line x1="1054.22" y1="314.6" x2="1054.22" y2="318.2" stroke="#111" stroke-width="1.5" stroke-linecap="butt"/>
<line x1="1058.03" y1="314.6" x2="1058.03" y2="318.2" stroke="#111" stroke-width="1.5" stroke-linecap="butt"/>
<line x1="1061.39" y1="314.6" x2="1061.39" y2="318.2" stroke="#111" stroke-width="1.5" stroke-linecap="butt"/>
<line x1="1064.4" y1="314.6" x2="1064.4" y2="321.6" stroke="#111" stroke-width="2.4" stroke-linecap="butt"/>
<line x1="670.2" y1="65.6" x2="670.2" y2="134" stroke="#111" stroke-width="2" stroke-linecap="butt"/>
<line x1="664.45" y1="65.6" x2="675.95" y2="65.6" stroke="#111" stroke-width="2" stroke-linecap="butt"/>
<line x1="664.45" y1="134" x2="675.95" y2="134" stroke="#111" stroke-width="2" stroke-linecap="butt"/>
<line x1="959.64" y1="122.8" x2="959.64" y2="155.9" stroke="#111" stroke-width="2" stroke-linecap="butt"/>
<line x1="953.89" y1="122.8" x2="965.39" y2="122.8" stroke="#111" stroke-width="2" stroke-linecap="butt"/>
<line x1="953.89" y1="155.9" x2="965.39" y2="155.9" stroke="#111" stroke-width="2" stroke-linecap="butt"/>
<line x1="979.42" y1="175.2" x2="979.42" y2="243.5" stroke="#111" stroke-width="2" stroke-linecap="butt"/>
<line x1="973.67" y1="175.2" x2="985.17" y2="175.2" stroke="#111" stroke-width="2" stroke-linecap="butt"/>
<line x1="973.67" y1="243.5" x2="985.17" y2="243.5" stroke="#111" stroke-width="2" stroke-linecap="butt"/>
<line x1="999.2" y1="181.3" x2="999.2" y2="261.5" stroke="#111" stroke-width="2" stroke-linecap="butt"/>
<line x1="993.45" y1="181.3" x2="1004.95" y2="181.3" stroke="#111" stroke-width="2" stroke-linecap="butt"/>
<line x1="993.45" y1="261.5" x2="1004.95" y2="261.5" stroke="#111" stroke-width="2" stroke-linecap="butt"/>
<line x1="1025.34" y1="207.3" x2="1025.34" y2="251.3" stroke="#111" stroke-width="2" stroke-linecap="butt"/>
<line x1="1019.59" y1="207.3" x2="1031.09" y2="207.3" stroke="#111" stroke-width="2" stroke-linecap="butt"/>
<line x1="1019.59" y1="251.3" x2="1031.09" y2="251.3" stroke="#111" stroke-width="2" stroke-linecap="butt"/>
<line x1="1045.12" y1="250.7" x2="1045.12" y2="276" stroke="#111" stroke-width="2" stroke-linecap="butt"/>
<line x1="1039.37" y1="250.7" x2="1050.87" y2="250.7" stroke="#111" stroke-width="2" stroke-linecap="butt"/>
<line x1="1039.37" y1="276" x2="1050.87" y2="276" stroke="#111" stroke-width="2" stroke-linecap="butt"/>
<path d="M677.20,99.30 L677.13,99.89 L676.91,100.66 L676.56,101.48 L676.08,102.32 L675.49,103.14 L674.80,103.90 L674.04,104.59 L673.22,105.18 L672.38,105.66 L671.56,106.01 L670.79,106.23 L670.20,106.30 L669.61,106.23 L668.84,106.01 L668.02,105.66 L667.18,105.18 L666.36,104.59 L665.60,103.90 L664.91,103.14 L664.32,102.32 L663.84,101.48 L663.49,100.66 L663.27,99.89 L663.20,99.30 L663.27,98.71 L663.49,97.94 L663.84,97.12 L664.32,96.28 L664.91,95.46 L665.60,94.70 L666.36,94.01 L667.18,93.42 L668.02,92.94 L668.84,92.59 L669.61,92.37 L670.20,92.30 L670.79,92.37 L671.56,92.59 L672.38,92.94 L673.22,93.42 L674.04,94.01 L674.80,94.70 L675.49,95.46 L676.08,96.28 L676.56,97.12 L676.91,97.94 L677.13,98.71Z" fill="#0a0a0a"/>
<path d="M966.64,139.70 L966.57,140.29 L966.36,141.06 L966.00,141.88 L965.52,142.72 L964.93,143.54 L964.24,144.30 L963.48,144.99 L962.67,145.58 L961.83,146.06 L961.00,146.41 L960.24,146.63 L959.64,146.70 L959.05,146.63 L958.28,146.41 L957.46,146.06 L956.62,145.58 L955.81,144.99 L955.05,144.30 L954.36,143.54 L953.76,142.72 L953.29,141.88 L952.93,141.06 L952.72,140.29 L952.64,139.70 L952.72,139.11 L952.93,138.34 L953.29,137.52 L953.76,136.68 L954.36,135.86 L955.05,135.10 L955.81,134.41 L956.62,133.82 L957.46,133.34 L958.28,132.99 L959.05,132.77 L959.64,132.70 L960.24,132.77 L961.00,132.99 L961.83,133.34 L962.67,133.82 L963.48,134.41 L964.24,135.10 L964.93,135.86 L965.52,136.68 L966.00,137.52 L966.36,138.34 L966.57,139.11Z" fill="#0a0a0a"/>
<path d="M986.42,209.50 L986.35,210.09 L986.13,210.86 L985.78,211.68 L985.30,212.52 L984.71,213.34 L984.02,214.10 L983.26,214.79 L982.44,215.38 L981.61,215.86 L980.78,216.21 L980.02,216.43 L979.42,216.50 L978.83,216.43 L978.06,216.21 L977.24,215.86 L976.40,215.38 L975.59,214.79 L974.82,214.10 L974.13,213.34 L973.54,212.52 L973.06,211.68 L972.71,210.86 L972.49,210.09 L972.42,209.50 L972.49,208.91 L972.71,208.14 L973.06,207.32 L973.54,206.48 L974.13,205.66 L974.82,204.90 L975.59,204.21 L976.40,203.62 L977.24,203.14 L978.06,202.79 L978.83,202.57 L979.42,202.50 L980.02,202.57 L980.78,202.79 L981.61,203.14 L982.44,203.62 L983.26,204.21 L984.02,204.90 L984.71,205.66 L985.30,206.48 L985.78,207.32 L986.13,208.14 L986.35,208.91Z" fill="#0a0a0a"/>
<path d="M1006.20,221.40 L1006.13,221.99 L1005.91,222.76 L1005.56,223.58 L1005.08,224.42 L1004.49,225.24 L1003.80,226.00 L1003.04,226.69 L1002.22,227.28 L1001.38,227.76 L1000.56,228.11 L999.79,228.33 L999.20,228.40 L998.61,228.33 L997.84,228.11 L997.02,227.76 L996.18,227.28 L995.36,226.69 L994.60,226.00 L993.91,225.24 L993.32,224.42 L992.84,223.58 L992.49,222.76 L992.27,221.99 L992.20,221.40 L992.27,220.81 L992.49,220.04 L992.84,219.22 L993.32,218.38 L993.91,217.56 L994.60,216.80 L995.36,216.11 L996.18,215.52 L997.02,215.04 L997.84,214.69 L998.61,214.47 L999.20,214.40 L999.79,214.47 L1000.56,214.69 L1001.38,215.04 L1002.22,215.52 L1003.04,216.11 L1003.80,216.80 L1004.49,217.56 L1005.08,218.38 L1005.56,219.22 L1005.91,220.04 L1006.13,220.81Z" fill="#0a0a0a"/>
<path d="M1032.34,229.40 L1032.27,229.99 L1032.06,230.76 L1031.70,231.58 L1031.22,232.42 L1030.63,233.24 L1029.94,234.00 L1029.18,234.69 L1028.37,235.28 L1027.53,235.76 L1026.70,236.11 L1025.94,236.33 L1025.34,236.40 L1024.75,236.33 L1023.98,236.11 L1023.16,235.76 L1022.32,235.28 L1021.51,234.69 L1020.75,234.00 L1020.06,233.24 L1019.46,232.42 L1018.99,231.58 L1018.63,230.76 L1018.42,229.99 L1018.34,229.40 L1018.42,228.81 L1018.63,228.04 L1018.99,227.22 L1019.46,226.38 L1020.06,225.56 L1020.75,224.80 L1021.51,224.11 L1022.32,223.52 L1023.16,223.04 L1023.98,222.69 L1024.75,222.47 L1025.34,222.40 L1025.94,222.47 L1026.70,222.69 L1027.53,223.04 L1028.37,223.52 L1029.18,224.11 L1029.94,224.80 L1030.63,225.56 L1031.22,226.38 L1031.70,227.22 L1032.06,228.04 L1032.27,228.81Z" fill="#0a0a0a"/>
<path d="M1052.12,263.70 L1052.05,264.29 L1051.83,265.06 L1051.48,265.88 L1051.00,266.72 L1050.41,267.54 L1049.72,268.30 L1048.96,268.99 L1048.14,269.58 L1047.31,270.06 L1046.48,270.41 L1045.72,270.63 L1045.12,270.70 L1044.53,270.63 L1043.76,270.41 L1042.94,270.06 L1042.10,269.58 L1041.29,268.99 L1040.52,268.30 L1039.83,267.54 L1039.24,266.72 L1038.76,265.88 L1038.41,265.06 L1038.19,264.29 L1038.12,263.70 L1038.19,263.11 L1038.41,262.34 L1038.76,261.52 L1039.24,260.68 L1039.83,259.86 L1040.52,259.10 L1041.29,258.41 L1042.10,257.82 L1042.94,257.34 L1043.76,256.99 L1044.53,256.77 L1045.12,256.70 L1045.72,256.77 L1046.48,256.99 L1047.31,257.34 L1048.14,257.82 L1048.96,258.41 L1049.72,259.10 L1050.41,259.86 L1051.00,260.68 L1051.48,261.52 L1051.83,262.34 L1052.05,263.11Z" fill="#0a0a0a"/>
<text transform="matrix(0.24701 0 0 0.26176 628.61 323.11)" font-family="Liberation Serif, serif" font-size="100" fill="#111" stroke="#111" stroke-width="0.98" stroke-linejoin="round">0.0</text>
<text transform="matrix(0.24701 0 0 0.26176 628.98 256.83)" font-family="Liberation Serif, serif" font-size="100" fill="#111" stroke="#111" stroke-width="0.98" stroke-linejoin="round">0.2</text>
<text transform="matrix(0.24701 0 0 0.26176 627.99 190.55)" font-family="Liberation Serif, serif" font-size="100" fill="#111" stroke="#111" stroke-width="0.98" stroke-linejoin="round">0.4</text>
<text transform="matrix(0.24701 0 0 0.26176 628.36 124.27)" font-family="Liberation Serif, serif" font-size="100" fill="#111" stroke="#111" stroke-width="0.98" stroke-linejoin="round">0.6</text>
<text transform="matrix(0.24701 0 0 0.26176 628.61 57.99)" font-family="Liberation Serif, serif" font-size="100" fill="#111" stroke="#111" stroke-width="0.98" stroke-linejoin="round">0.8</text>
<text transform="matrix(0.24000 0 0 0.28235 643.44 346.78)" font-family="Liberation Serif, serif" font-size="100" fill="#111" stroke="#111" stroke-width="0.96" stroke-linejoin="round">0.001</text>
<text transform="matrix(0.24000 0 0 0.28235 715.14 346.78)" font-family="Liberation Serif, serif" font-size="100" fill="#111" stroke="#111" stroke-width="0.96" stroke-linejoin="round">0.01</text>
<text transform="matrix(0.24000 0 0 0.28235 786.84 346.78)" font-family="Liberation Serif, serif" font-size="100" fill="#111" stroke="#111" stroke-width="0.96" stroke-linejoin="round">0.1</text>
<text transform="matrix(0.24000 0 0 0.28235 860.94 346.49)" font-family="Liberation Serif, serif" font-size="100" fill="#111" stroke="#111" stroke-width="0.96" stroke-linejoin="round">1</text>
<text transform="matrix(0.24000 0 0 0.28235 920.40 346.78)" font-family="Liberation Serif, serif" font-size="100" fill="#111" stroke="#111" stroke-width="0.96" stroke-linejoin="round">10</text>
<text transform="matrix(0.24000 0 0 0.28235 980.10 346.78)" font-family="Liberation Serif, serif" font-size="100" fill="#111" stroke="#111" stroke-width="0.96" stroke-linejoin="round">100</text>
<text transform="matrix(0.24000 0 0 0.28235 1039.80 346.78)" font-family="Liberation Serif, serif" font-size="100" fill="#111" stroke="#111" stroke-width="0.96" stroke-linejoin="round">1000</text>
<text transform="matrix(0 -0.24150 0.32000 0 617.48 254.87)" font-family="Liberation Serif, serif" font-size="100" fill="#454545">OD450-OD540</text>
<text transform="matrix(0.25014 0 0 0.26667 775.40 379.10)" font-family="Liberation Serif, serif" font-size="100" fill="#111" stroke="#111" stroke-width="0.97" stroke-linejoin="round">CLV3 Conc. (nM)</text>
<path d="M1226.80,135.01 L1228.47,135.01 L1230.14,135.01 L1231.81,135.01 L1233.48,135.01 L1235.16,135.01 L1236.83,135.01 L1238.50,135.01 L1240.17,135.01 L1241.84,135.02 L1243.51,135.02 L1245.18,135.02 L1246.85,135.02 L1248.53,135.02 L1250.20,135.02 L1251.87,135.02 L1253.54,135.02 L1255.21,135.02 L1256.88,135.03 L1258.55,135.03 L1260.22,135.03 L1261.90,135.03 L1263.57,135.03 L1265.24,135.03 L1266.91,135.03 L1268.58,135.04 L1270.25,135.04 L1271.92,135.04 L1273.59,135.04 L1275.27,135.04 L1276.94,135.05 L1278.61,135.05 L1280.28,135.05 L1281.95,135.06 L1283.62,135.06 L1285.29,135.06 L1286.96,135.06 L1288.64,135.07 L1290.31,135.07 L1291.98,135.08 L1293.65,135.08 L1295.32,135.08 L1296.99,135.09 L1298.66,135.09 L1300.33,135.10 L1302.01,135.10 L1303.68,135.11 L1305.35,135.12 L1307.02,135.12 L1308.69,135.13 L1310.36,135.14 L1312.03,135.14 L1313.70,135.15 L1315.37,135.16 L1317.05,135.17 L1318.72,135.18 L1320.39,135.19 L1322.06,135.20 L1323.73,135.21 L1325.40,135.22 L1327.07,135.23 L1328.74,135.24 L1330.42,135.25 L1332.09,135.27 L1333.76,135.28 L1335.43,135.30 L1337.10,135.31 L1338.77,135.33 L1340.44,135.35 L1342.11,135.37 L1343.79,135.39 L1345.46,135.41 L1347.13,135.43 L1348.80,135.45 L1350.47,135.48 L1352.14,135.50 L1353.81,135.53 L1355.48,135.56 L1357.16,135.59 L1358.83,135.62 L1360.50,135.65 L1362.17,135.69 L1363.84,135.73 L1365.51,135.77 L1367.18,135.81 L1368.85,135.85 L1370.53,135.90 L1372.20,135.94 L1373.87,135.99 L1375.54,136.05 L1377.21,136.10 L1378.88,136.16 L1380.55,136.23 L1382.22,136.29 L1383.89,136.36 L1385.57,136.43 L1387.24,136.51 L1388.91,136.59 L1390.58,136.67 L1392.25,136.76 L1393.92,136.86 L1395.59,136.96 L1397.26,137.06 L1398.94,137.17 L1400.61,137.28 L1402.28,137.41 L1403.95,137.53 L1405.62,137.67 L1407.29,137.81 L1408.96,137.96 L1410.63,138.11 L1412.31,138.27 L1413.98,138.45 L1415.65,138.63 L1417.32,138.82 L1418.99,139.02 L1420.66,139.23 L1422.33,139.45 L1424.00,139.68 L1425.68,139.92 L1427.35,140.17 L1429.02,140.44 L1430.69,140.72 L1432.36,141.01 L1434.03,141.32 L1435.70,141.64 L1437.37,141.98 L1439.05,142.34 L1440.72,142.71 L1442.39,143.09 L1444.06,143.50 L1445.73,143.93 L1447.40,144.37 L1449.07,144.83 L1450.74,145.32 L1452.42,145.83 L1454.09,146.36 L1455.76,146.91 L1457.43,147.49 L1459.10,148.09 L1460.77,148.71 L1462.44,149.36 L1464.11,150.04 L1465.78,150.75 L1467.46,151.48 L1469.13,152.24 L1470.80,153.03 L1472.47,153.85 L1474.14,154.70 L1475.81,155.58 L1477.48,156.49 L1479.15,157.43 L1480.83,158.41 L1482.50,159.41 L1484.17,160.45 L1485.84,161.52 L1487.51,162.62 L1489.18,163.75 L1490.85,164.91 L1492.52,166.10 L1494.20,167.33 L1495.87,168.58 L1497.54,169.86 L1499.21,171.17 L1500.88,172.51 L1502.55,173.87 L1504.22,175.26 L1505.89,176.67 L1507.57,178.11 L1509.24,179.56 L1510.91,181.04 L1512.58,182.53 L1514.25,184.03 L1515.92,185.55 L1517.59,187.09 L1519.26,188.63 L1520.94,190.18 L1522.61,191.74 L1524.28,193.30 L1525.95,194.86 L1527.62,196.42 L1529.29,197.98 L1530.96,199.53 L1532.63,201.07 L1534.31,202.61 L1535.98,204.13 L1537.65,205.64 L1539.32,207.14 L1540.99,208.62 L1542.66,210.08 L1544.33,211.52 L1546.00,212.94 L1547.67,214.33 L1549.35,215.70 L1551.02,217.05 L1552.69,218.37 L1554.36,219.66 L1556.03,220.92 L1557.70,222.15 L1559.37,223.35 L1561.04,224.52 L1562.72,225.66 L1564.39,226.77 L1566.06,227.85 L1567.73,228.89 L1569.40,229.91 L1571.07,230.89 L1572.74,231.84 L1574.41,232.76 L1576.09,233.65 L1577.76,234.51 L1579.43,235.34 L1581.10,236.14 L1582.77,236.91 L1584.44,237.65 L1586.11,238.36 L1587.78,239.05 L1589.46,239.71 L1591.13,240.34 L1592.80,240.95 L1594.47,241.53 L1596.14,242.09 L1597.81,242.62 L1599.48,243.14 L1601.15,243.63 L1602.83,244.10 L1604.50,244.55 L1606.17,244.98 L1607.84,245.39 L1609.51,245.78 L1611.18,246.16 L1612.85,246.52 L1614.52,246.86 L1616.19,247.19 L1617.87,247.50 L1619.54,247.80 L1621.21,248.08 L1622.88,248.35 L1624.55,248.61 L1626.22,248.86 L1627.89,249.09" stroke="#111" stroke-width="2" fill="none" stroke-linejoin="round" stroke-linecap="round"/>
<line x1="1226.8" y1="46.5" x2="1226.8" y2="319" stroke="#111" stroke-width="2.4" stroke-linecap="butt"/>
<line x1="1219.8" y1="319" x2="1651.9" y2="319" stroke="#111" stroke-width="2.4" stroke-linecap="butt"/>
<line x1="1219.8" y1="319" x2="1226.8" y2="319" stroke="#111" stroke-width="2.4" stroke-linecap="butt"/>
<line x1="1219.8" y1="250.88" x2="1226.8" y2="250.88" stroke="#111" stroke-width="2.4" stroke-linecap="butt"/>
<line x1="1219.8" y1="182.75" x2="1226.8" y2="182.75" stroke="#111" stroke-width="2.4" stroke-linecap="butt"/>
<line x1="1219.8" y1="114.62" x2="1226.8" y2="114.62" stroke="#111" stroke-width="2.4" stroke-linecap="butt"/>
<line x1="1219.8" y1="46.5" x2="1226.8" y2="46.5" stroke="#111" stroke-width="2.4" stroke-linecap="butt"/>
<line x1="1226.8" y1="319" x2="1226.8" y2="326" stroke="#111" stroke-width="2.4" stroke-linecap="butt"/>
<line x1="1247.99" y1="319" x2="1247.99" y2="322.6" stroke="#111" stroke-width="1.5" stroke-linecap="butt"/>
<line x1="1260.38" y1="319" x2="1260.38" y2="322.6" stroke="#111" stroke-width="1.5" stroke-linecap="butt"/>
<line x1="1269.17" y1="319" x2="1269.17" y2="322.6" stroke="#111" stroke-width="1.5" stroke-linecap="butt"/>
<line x1="1275.99" y1="319" x2="1275.99" y2="322.6" stroke="#111" stroke-width="1.5" stroke-linecap="butt"/>
<line x1="1281.57" y1="319" x2="1281.57" y2="322.6" stroke="#111" stroke-width="1.5" stroke-linecap="butt"/>
<line x1="1286.28" y1="319" x2="1286.28" y2="322.6" stroke="#111" stroke-width="1.5" stroke-linecap="butt"/>
<line x1="1290.36" y1="319" x2="1290.36" y2="322.6" stroke="#111" stroke-width="1.5" stroke-linecap="butt"/>
<line x1="1293.96" y1="319" x2="1293.96" y2="322.6" stroke="#111" stroke-width="1.5" stroke-linecap="butt"/>
<line x1="1297.18" y1="319" x2="1297.18" y2="326" stroke="#111" stroke-width="2.4" stroke-linecap="butt"/>
<line x1="1318.37" y1="319" x2="1318.37" y2="322.6" stroke="#111" stroke-width="1.5" stroke-linecap="butt"/>
<line x1="1330.76" y1="319" x2="1330.76" y2="322.6" stroke="#111" stroke-width="1.5" stroke-linecap="butt"/>
<line x1="1339.55" y1="319" x2="1339.55" y2="322.6" stroke="#111" stroke-width="1.5" stroke-linecap="butt"/>
<line x1="1346.37" y1="319" x2="1346.37" y2="322.6" stroke="#111" stroke-width="1.5" stroke-linecap="butt"/>
<line x1="1351.95" y1="319" x2="1351.95" y2="322.6" stroke="#111" stroke-width="1.5" stroke-linecap="butt"/>
<line x1="1356.66" y1="319" x2="1356.66" y2="322.6" stroke="#111" stroke-width="1.5" stroke-linecap="butt"/>
<line x1="1360.74" y1="319" x2="1360.74" y2="322.6" stroke="#111" stroke-width="1.5" stroke-linecap="butt"/>
<line x1="1364.34" y1="319" x2="1364.34" y2="322.6" stroke="#111" stroke-width="1.5" stroke-linecap="butt"/>
<line x1="1367.56" y1="319" x2="1367.56" y2="326" stroke="#111" stroke-width="2.4" stroke-linecap="butt"/>
<line x1="1388.75" y1="319" x2="1388.75" y2="322.6" stroke="#111" stroke-width="1.5" stroke-linecap="butt"/>
<line x1="1401.14" y1="319" x2="1401.14" y2="322.6" stroke="#111" stroke-width="1.5" stroke-linecap="butt"/>
<line x1="1409.93" y1="319" x2="1409.93" y2="322.6" stroke="#111" stroke-width="1.5" stroke-linecap="butt"/>
<line x1="1416.75" y1="319" x2="1416.75" y2="322.6" stroke="#111" stroke-width="1.5" stroke-linecap="butt"/>
<line x1="1422.33" y1="319" x2="1422.33" y2="322.6" stroke="#111" stroke-width="1.5" stroke-linecap="butt"/>
<line x1="1427.04" y1="319" x2="1427.04" y2="322.6" stroke="#111" stroke-width="1.5" stroke-linecap="butt"/>
<line x1="1431.12" y1="319" x2="1431.12" y2="322.6" stroke="#111" stroke-width="1.5" stroke-linecap="butt"/>
<line x1="1434.72" y1="319" x2="1434.72" y2="322.6" stroke="#111" stroke-width="1.5" stroke-linecap="butt"/>
<line x1="1437.94" y1="319" x2="1437.94" y2="326" stroke="#111" stroke-width="2.4" stroke-linecap="butt"/>
<line x1="1459.13" y1="319" x2="1459.13" y2="322.6" stroke="#111" stroke-width="1.5" stroke-linecap="butt"/>
<line x1="1471.52" y1="319" x2="1471.52" y2="322.6" stroke="#111" stroke-width="1.5" stroke-linecap="butt"/>
<line x1="1480.31" y1="319" x2="1480.31" y2="322.6" stroke="#111" stroke-width="1.5" stroke-linecap="butt"/>
<line x1="1487.13" y1="319" x2="1487.13" y2="322.6" stroke="#111" stroke-width="1.5" stroke-linecap="butt"/>
<line x1="1492.71" y1="319" x2="1492.71" y2="322.6" stroke="#111" stroke-width="1.5" stroke-linecap="butt"/>
<line x1="1497.42" y1="319" x2="1497.42" y2="322.6" stroke="#111" stroke-width="1.5" stroke-linecap="butt"/>
<line x1="1501.5" y1="319" x2="1501.5" y2="322.6" stroke="#111" stroke-width="1.5" stroke-linecap="butt"/>
<line x1="1505.1" y1="319" x2="1505.1" y2="322.6" stroke="#111" stroke-width="1.5" stroke-linecap="butt"/>
<line x1="1508.32" y1="319" x2="1508.32" y2="326" stroke="#111" stroke-width="2.4" stroke-linecap="butt"/>
<line x1="1529.51" y1="319" x2="1529.51" y2="322.6" stroke="#111" stroke-width="1.5" stroke-linecap="butt"/>
<line x1="1541.9" y1="319" x2="1541.9" y2="322.6" stroke="#111" stroke-width="1.5" stroke-linecap="butt"/>
<line x1="1550.69" y1="319" x2="1550.69" y2="322.6" stroke="#111" stroke-width="1.5" stroke-linecap="butt"/>
<line x1="1557.51" y1="319" x2="1557.51" y2="322.6" stroke="#111" stroke-width="1.5" stroke-linecap="butt"/>
<line x1="1563.09" y1="319" x2="1563.09" y2="322.6" stroke="#111" stroke-width="1.5" stroke-linecap="butt"/>
<line x1="1567.8" y1="319" x2="1567.8" y2="322.6" stroke="#111" stroke-width="1.5" stroke-linecap="butt"/>
<line x1="1571.88" y1="319" x2="1571.88" y2="322.6" stroke="#111" stroke-width="1.5" stroke-linecap="butt"/>
<line x1="1575.48" y1="319" x2="1575.48" y2="322.6" stroke="#111" stroke-width="1.5" stroke-linecap="butt"/>
<line x1="1578.7" y1="319" x2="1578.7" y2="326" stroke="#111" stroke-width="2.4" stroke-linecap="butt"/>
<line x1="1599.89" y1="319" x2="1599.89" y2="322.6" stroke="#111" stroke-width="1.5" stroke-linecap="butt"/>
<line x1="1612.28" y1="319" x2="1612.28" y2="322.6" stroke="#111" stroke-width="1.5" stroke-linecap="butt"/>
<line x1="1621.07" y1="319" x2="1621.07" y2="322.6" stroke="#111" stroke-width="1.5" stroke-linecap="butt"/>
<line x1="1627.89" y1="319" x2="1627.89" y2="322.6" stroke="#111" stroke-width="1.5" stroke-linecap="butt"/>
<line x1="1633.47" y1="319" x2="1633.47" y2="322.6" stroke="#111" stroke-width="1.5" stroke-linecap="butt"/>
<line x1="1638.18" y1="319" x2="1638.18" y2="322.6" stroke="#111" stroke-width="1.5" stroke-linecap="butt"/>
<line x1="1642.26" y1="319" x2="1642.26" y2="322.6" stroke="#111" stroke-width="1.5" stroke-linecap="butt"/>
<line x1="1645.86" y1="319" x2="1645.86" y2="322.6" stroke="#111" stroke-width="1.5" stroke-linecap="butt"/>
<line x1="1649.08" y1="319" x2="1649.08" y2="326" stroke="#111" stroke-width="2.4" stroke-linecap="butt"/>
<line x1="1226.8" y1="109" x2="1226.8" y2="159.7" stroke="#111" stroke-width="2" stroke-linecap="butt"/>
<line x1="1220.55" y1="109" x2="1233.05" y2="109" stroke="#111" stroke-width="2" stroke-linecap="butt"/>
<line x1="1220.55" y1="159.7" x2="1233.05" y2="159.7" stroke="#111" stroke-width="2" stroke-linecap="butt"/>
<line x1="1536.33" y1="164.1" x2="1536.33" y2="258.8" stroke="#111" stroke-width="2" stroke-linecap="butt"/>
<line x1="1530.08" y1="164.1" x2="1542.58" y2="164.1" stroke="#111" stroke-width="2" stroke-linecap="butt"/>
<line x1="1530.08" y1="258.8" x2="1542.58" y2="258.8" stroke="#111" stroke-width="2" stroke-linecap="butt"/>
<line x1="1557.51" y1="195.8" x2="1557.51" y2="228.2" stroke="#111" stroke-width="2" stroke-linecap="butt"/>
<line x1="1551.26" y1="195.8" x2="1563.76" y2="195.8" stroke="#111" stroke-width="2" stroke-linecap="butt"/>
<line x1="1551.26" y1="228.2" x2="1563.76" y2="228.2" stroke="#111" stroke-width="2" stroke-linecap="butt"/>
<line x1="1578.7" y1="226.1" x2="1578.7" y2="250.4" stroke="#111" stroke-width="2" stroke-linecap="butt"/>
<line x1="1572.45" y1="226.1" x2="1584.95" y2="226.1" stroke="#111" stroke-width="2" stroke-linecap="butt"/>
<line x1="1572.45" y1="250.4" x2="1584.95" y2="250.4" stroke="#111" stroke-width="2" stroke-linecap="butt"/>
<line x1="1627.89" y1="232.9" x2="1627.89" y2="250.1" stroke="#111" stroke-width="2" stroke-linecap="butt"/>
<line x1="1621.64" y1="232.9" x2="1634.14" y2="232.9" stroke="#111" stroke-width="2" stroke-linecap="butt"/>
<line x1="1621.64" y1="250.1" x2="1634.14" y2="250.1" stroke="#111" stroke-width="2" stroke-linecap="butt"/>
<path d="M1233.60,134.50 L1233.53,135.16 L1233.34,135.95 L1233.01,136.77 L1232.57,137.58 L1232.02,138.36 L1231.38,139.08 L1230.66,139.72 L1229.88,140.27 L1229.07,140.71 L1228.25,141.04 L1227.46,141.23 L1226.80,141.30 L1226.14,141.23 L1225.35,141.04 L1224.53,140.71 L1223.72,140.27 L1222.94,139.72 L1222.22,139.08 L1221.58,138.36 L1221.03,137.58 L1220.59,136.77 L1220.26,135.95 L1220.07,135.16 L1220.00,134.50 L1220.07,133.84 L1220.26,133.05 L1220.59,132.23 L1221.03,131.42 L1221.58,130.64 L1222.22,129.92 L1222.94,129.28 L1223.72,128.73 L1224.53,128.29 L1225.35,127.96 L1226.14,127.77 L1226.80,127.70 L1227.46,127.77 L1228.25,127.96 L1229.07,128.29 L1229.88,128.73 L1230.66,129.28 L1231.38,129.92 L1232.02,130.64 L1232.57,131.42 L1233.01,132.23 L1233.34,133.05 L1233.53,133.84Z" fill="#0a0a0a"/>
<path d="M1543.13,211.70 L1543.06,212.36 L1542.86,213.15 L1542.54,213.97 L1542.10,214.78 L1541.55,215.56 L1540.90,216.28 L1540.18,216.92 L1539.41,217.47 L1538.60,217.91 L1537.78,218.24 L1536.99,218.43 L1536.33,218.50 L1535.66,218.43 L1534.88,218.24 L1534.06,217.91 L1533.25,217.47 L1532.47,216.92 L1531.75,216.28 L1531.11,215.56 L1530.56,214.78 L1530.12,213.97 L1529.79,213.15 L1529.59,212.36 L1529.53,211.70 L1529.59,211.04 L1529.79,210.25 L1530.12,209.43 L1530.56,208.62 L1531.11,207.84 L1531.75,207.12 L1532.47,206.48 L1533.25,205.93 L1534.06,205.49 L1534.88,205.16 L1535.66,204.97 L1536.33,204.90 L1536.99,204.97 L1537.78,205.16 L1538.60,205.49 L1539.41,205.93 L1540.18,206.48 L1540.90,207.12 L1541.55,207.84 L1542.10,208.62 L1542.54,209.43 L1542.86,210.25 L1543.06,211.04Z" fill="#0a0a0a"/>
<path d="M1564.31,212.00 L1564.25,212.66 L1564.05,213.45 L1563.73,214.27 L1563.28,215.08 L1562.73,215.86 L1562.09,216.58 L1561.37,217.22 L1560.59,217.77 L1559.78,218.21 L1558.96,218.54 L1558.18,218.73 L1557.51,218.80 L1556.85,218.73 L1556.06,218.54 L1555.24,218.21 L1554.43,217.77 L1553.66,217.22 L1552.94,216.58 L1552.29,215.86 L1551.74,215.08 L1551.30,214.27 L1550.98,213.45 L1550.78,212.66 L1550.71,212.00 L1550.78,211.34 L1550.98,210.55 L1551.30,209.73 L1551.74,208.92 L1552.29,208.14 L1552.94,207.42 L1553.66,206.78 L1554.43,206.23 L1555.24,205.79 L1556.06,205.46 L1556.85,205.27 L1557.51,205.20 L1558.18,205.27 L1558.96,205.46 L1559.78,205.79 L1560.59,206.23 L1561.37,206.78 L1562.09,207.42 L1562.73,208.14 L1563.28,208.92 L1563.73,209.73 L1564.05,210.55 L1564.25,211.34Z" fill="#0a0a0a"/>
<path d="M1585.50,238.10 L1585.43,238.76 L1585.24,239.55 L1584.91,240.37 L1584.47,241.18 L1583.92,241.96 L1583.28,242.68 L1582.56,243.32 L1581.78,243.87 L1580.97,244.31 L1580.15,244.64 L1579.36,244.83 L1578.70,244.90 L1578.04,244.83 L1577.25,244.64 L1576.43,244.31 L1575.62,243.87 L1574.84,243.32 L1574.12,242.68 L1573.48,241.96 L1572.93,241.18 L1572.49,240.37 L1572.16,239.55 L1571.97,238.76 L1571.90,238.10 L1571.97,237.44 L1572.16,236.65 L1572.49,235.83 L1572.93,235.02 L1573.48,234.24 L1574.12,233.52 L1574.84,232.88 L1575.62,232.33 L1576.43,231.89 L1577.25,231.56 L1578.04,231.37 L1578.70,231.30 L1579.36,231.37 L1580.15,231.56 L1580.97,231.89 L1581.78,232.33 L1582.56,232.88 L1583.28,233.52 L1583.92,234.24 L1584.47,235.02 L1584.91,235.83 L1585.24,236.65 L1585.43,237.44Z" fill="#0a0a0a"/>
<path d="M1606.69,260.00 L1606.62,260.66 L1606.42,261.45 L1606.10,262.27 L1605.66,263.08 L1605.11,263.86 L1604.46,264.58 L1603.74,265.22 L1602.97,265.77 L1602.16,266.21 L1601.34,266.54 L1600.55,266.73 L1599.89,266.80 L1599.22,266.73 L1598.44,266.54 L1597.62,266.21 L1596.81,265.77 L1596.03,265.22 L1595.31,264.58 L1594.67,263.86 L1594.12,263.08 L1593.67,262.27 L1593.35,261.45 L1593.15,260.66 L1593.09,260.00 L1593.15,259.34 L1593.35,258.55 L1593.67,257.73 L1594.12,256.92 L1594.67,256.14 L1595.31,255.42 L1596.03,254.78 L1596.81,254.23 L1597.62,253.79 L1598.44,253.46 L1599.22,253.27 L1599.89,253.20 L1600.55,253.27 L1601.34,253.46 L1602.16,253.79 L1602.97,254.23 L1603.74,254.78 L1604.46,255.42 L1605.11,256.14 L1605.66,256.92 L1606.10,257.73 L1606.42,258.55 L1606.62,259.34Z" fill="#0a0a0a"/>
<path d="M1634.69,241.60 L1634.63,242.26 L1634.43,243.05 L1634.11,243.87 L1633.66,244.68 L1633.11,245.46 L1632.47,246.18 L1631.75,246.82 L1630.97,247.37 L1630.16,247.81 L1629.34,248.14 L1628.56,248.33 L1627.89,248.40 L1627.23,248.33 L1626.44,248.14 L1625.62,247.81 L1624.81,247.37 L1624.04,246.82 L1623.32,246.18 L1622.67,245.46 L1622.12,244.68 L1621.68,243.87 L1621.36,243.05 L1621.16,242.26 L1621.09,241.60 L1621.16,240.94 L1621.36,240.15 L1621.68,239.33 L1622.12,238.52 L1622.67,237.74 L1623.32,237.02 L1624.04,236.38 L1624.81,235.83 L1625.62,235.39 L1626.44,235.06 L1627.23,234.87 L1627.89,234.80 L1628.56,234.87 L1629.34,235.06 L1630.16,235.39 L1630.97,235.83 L1631.75,236.38 L1632.47,237.02 L1633.11,237.74 L1633.66,238.52 L1634.11,239.33 L1634.43,240.15 L1634.63,240.94Z" fill="#0a0a0a"/>
<text transform="matrix(0.28326 0 0 0.27353 1180.93 327.89)" font-family="Liberation Serif, serif" font-size="100" fill="#111" stroke="#111" stroke-width="0.90" stroke-linejoin="round">0.0</text>
<text transform="matrix(0.28326 0 0 0.27353 1180.93 259.76)" font-family="Liberation Serif, serif" font-size="100" fill="#111" stroke="#111" stroke-width="0.90" stroke-linejoin="round">0.5</text>
<text transform="matrix(0.28326 0 0 0.27353 1180.93 191.64)" font-family="Liberation Serif, serif" font-size="100" fill="#111" stroke="#111" stroke-width="0.90" stroke-linejoin="round">1.0</text>
<text transform="matrix(0.28326 0 0 0.27353 1180.93 123.38)" font-family="Liberation Serif, serif" font-size="100" fill="#111" stroke="#111" stroke-width="0.90" stroke-linejoin="round">1.5</text>
<text transform="matrix(0.28326 0 0 0.27353 1180.93 55.39)" font-family="Liberation Serif, serif" font-size="100" fill="#111" stroke="#111" stroke-width="0.90" stroke-linejoin="round">2.0</text>
<text transform="matrix(0.26047 0 0 0.27794 1197.76 352.28)" font-family="Liberation Serif, serif" font-size="100" fill="#111" stroke="#111" stroke-width="0.93" stroke-linejoin="round">0.001</text>
<text transform="matrix(0.26047 0 0 0.27794 1274.65 352.28)" font-family="Liberation Serif, serif" font-size="100" fill="#111" stroke="#111" stroke-width="0.93" stroke-linejoin="round">0.01</text>
<text transform="matrix(0.26047 0 0 0.27794 1351.54 352.28)" font-family="Liberation Serif, serif" font-size="100" fill="#111" stroke="#111" stroke-width="0.93" stroke-linejoin="round">0.1</text>
<text transform="matrix(0.26047 0 0 0.27794 1431.04 352.01)" font-family="Liberation Serif, serif" font-size="100" fill="#111" stroke="#111" stroke-width="0.93" stroke-linejoin="round">1</text>
<text transform="matrix(0.26047 0 0 0.27794 1494.65 352.28)" font-family="Liberation Serif, serif" font-size="100" fill="#111" stroke="#111" stroke-width="0.93" stroke-linejoin="round">10</text>
<text transform="matrix(0.26047 0 0 0.27794 1558.51 352.28)" font-family="Liberation Serif, serif" font-size="100" fill="#111" stroke="#111" stroke-width="0.93" stroke-linejoin="round">100</text>
<text transform="matrix(0.26047 0 0 0.27794 1622.38 352.28)" font-family="Liberation Serif, serif" font-size="100" fill="#111" stroke="#111" stroke-width="0.93" stroke-linejoin="round">1000</text>
<text transform="matrix(0 -0.24833 0.30519 0 1171.49 256.99)" font-family="Liberation Serif, serif" font-size="100" fill="#454545">OD450-OD540</text>
<text transform="matrix(0.26851 0 0 0.26963 1339.73 385.10)" font-family="Liberation Serif, serif" font-size="100" fill="#111" stroke="#111" stroke-width="0.93" stroke-linejoin="round">CLV3 Conc. (nM)</text>
<path d="M89.80,623.10 L91.47,623.10 L93.15,623.10 L94.82,623.10 L96.50,623.10 L99.07,623.10 L100.75,623.10 L102.42,623.10 L104.10,623.10 L105.77,623.10 L107.45,623.10 L109.12,623.10 L110.80,623.10 L112.47,623.10 L114.15,623.10 L115.82,623.10 L117.50,623.10 L119.17,623.10 L120.85,623.10 L122.52,623.10 L124.20,623.10 L125.87,623.10 L127.55,623.10 L129.22,623.10 L130.89,623.10 L132.57,623.10 L134.24,623.10 L135.92,623.10 L137.59,623.10 L139.27,623.10 L140.94,623.10 L142.62,623.10 L144.29,623.10 L145.97,623.10 L147.64,623.10 L149.32,623.10 L150.99,623.10 L152.67,623.10 L154.34,623.10 L156.02,623.10 L157.69,623.10 L159.37,623.10 L161.04,623.10 L162.72,623.10 L164.39,623.10 L166.07,623.10 L167.74,623.10 L169.41,623.10 L171.09,623.10 L172.76,623.10 L174.44,623.10 L176.11,623.10 L177.79,623.10 L179.46,623.10 L181.14,623.10 L182.81,623.10 L184.49,623.10 L186.16,623.10 L187.84,623.10 L189.51,623.10 L191.19,623.10 L192.86,623.10 L194.54,623.10 L196.21,623.10 L197.89,623.11 L199.56,623.11 L201.24,623.11 L202.91,623.11 L204.59,623.11 L206.26,623.11 L207.93,623.11 L209.61,623.11 L211.28,623.11 L212.96,623.11 L214.63,623.11 L216.31,623.11 L217.98,623.11 L219.66,623.11 L221.33,623.11 L223.01,623.12 L224.68,623.12 L226.36,623.12 L228.03,623.12 L229.71,623.12 L231.38,623.12 L233.06,623.12 L234.73,623.13 L236.41,623.13 L238.08,623.13 L239.76,623.13 L241.43,623.13 L243.11,623.14 L244.78,623.14 L246.45,623.14 L248.13,623.15 L249.80,623.15 L251.48,623.15 L253.15,623.16 L254.83,623.16 L256.50,623.17 L258.18,623.17 L259.85,623.18 L261.53,623.18 L263.20,623.19 L264.88,623.20 L266.55,623.20 L268.23,623.21 L269.90,623.22 L271.58,623.23 L273.25,623.24 L274.93,623.25 L276.60,623.26 L278.28,623.27 L279.95,623.28 L281.63,623.29 L283.30,623.31 L284.98,623.33 L286.65,623.34 L288.32,623.36 L290.00,623.38 L291.67,623.40 L293.35,623.42 L295.02,623.45 L296.70,623.47 L298.37,623.50 L300.05,623.53 L301.72,623.56 L303.40,623.60 L305.07,623.63 L306.75,623.67 L308.42,623.71 L310.10,623.76 L311.77,623.81 L313.45,623.86 L315.12,623.92 L316.80,623.98 L318.47,624.04 L320.15,624.11 L321.82,624.19 L323.50,624.27 L325.17,624.36 L326.84,624.45 L328.52,624.55 L330.19,624.66 L331.87,624.77 L333.54,624.89 L335.22,625.03 L336.89,625.17 L338.57,625.32 L340.24,625.48 L341.92,625.66 L343.59,625.84 L345.27,626.04 L346.94,626.26 L348.62,626.49 L350.29,626.73 L351.97,627.00 L353.64,627.28 L355.32,627.58 L356.99,627.90 L358.67,628.25 L360.34,628.62 L362.02,629.01 L363.69,629.43 L365.36,629.88 L367.04,630.36 L368.71,630.87 L370.39,631.42 L372.06,632.00 L373.74,632.62 L375.41,633.27 L377.09,633.97 L378.76,634.72 L380.44,635.51 L382.11,636.34 L383.79,637.23 L385.46,638.17 L387.14,639.17 L388.81,640.22 L390.49,641.33 L392.16,642.50 L393.84,643.73 L395.51,645.02 L397.19,646.39 L398.86,647.81 L400.54,649.31 L402.21,650.87 L403.88,652.51 L405.56,654.21 L407.23,655.98 L408.91,657.82 L410.58,659.73 L412.26,661.70 L413.93,663.73 L415.61,665.83 L417.28,667.99 L418.96,670.20 L420.63,672.47 L422.31,674.78 L423.98,677.13 L425.66,679.53 L427.33,681.95 L429.01,684.40 L430.68,686.87 L432.36,689.36 L434.03,691.86 L435.71,694.35 L437.38,696.84 L439.06,699.32 L440.73,701.79 L442.40,704.23 L444.08,706.64 L445.75,709.01 L447.43,711.35 L449.10,713.63 L450.78,715.87 L452.45,718.06 L454.13,720.19 L455.80,722.26 L457.48,724.26 L459.15,726.21 L460.83,728.08 L462.50,729.89 L464.18,731.62 L465.85,733.29 L467.53,734.89 L469.20,736.42 L470.88,737.89 L472.55,739.28 L474.23,740.61 L475.90,741.88 L477.58,743.08 L479.25,744.22 L480.92,745.30 L482.60,746.32 L484.27,747.29 L485.95,748.20 L487.62,749.07 L489.30,749.88 L490.97,750.65 L492.65,751.37" stroke="#111" stroke-width="2" fill="none" stroke-linejoin="round" stroke-linecap="round"/>
<line x1="89.8" y1="531.6" x2="89.8" y2="814.6" stroke="#111" stroke-width="2.4" stroke-linecap="butt"/>
<line x1="82.8" y1="814.6" x2="514.3" y2="814.6" stroke="#111" stroke-width="2.4" stroke-linecap="butt"/>
<line x1="82.8" y1="814.6" x2="89.8" y2="814.6" stroke="#111" stroke-width="2.4" stroke-linecap="butt"/>
<line x1="82.8" y1="743.85" x2="89.8" y2="743.85" stroke="#111" stroke-width="2.4" stroke-linecap="butt"/>
<line x1="82.8" y1="673.1" x2="89.8" y2="673.1" stroke="#111" stroke-width="2.4" stroke-linecap="butt"/>
<line x1="82.8" y1="602.35" x2="89.8" y2="602.35" stroke="#111" stroke-width="2.4" stroke-linecap="butt"/>
<line x1="82.8" y1="531.6" x2="89.8" y2="531.6" stroke="#111" stroke-width="2.4" stroke-linecap="butt"/>
<line x1="89.8" y1="814.6" x2="89.8" y2="821.6" stroke="#111" stroke-width="2.4" stroke-linecap="butt"/>
<line x1="111.03" y1="814.6" x2="111.03" y2="818.2" stroke="#111" stroke-width="1.5" stroke-linecap="butt"/>
<line x1="123.45" y1="814.6" x2="123.45" y2="818.2" stroke="#111" stroke-width="1.5" stroke-linecap="butt"/>
<line x1="132.26" y1="814.6" x2="132.26" y2="818.2" stroke="#111" stroke-width="1.5" stroke-linecap="butt"/>
<line x1="139.1" y1="814.6" x2="139.1" y2="818.2" stroke="#111" stroke-width="1.5" stroke-linecap="butt"/>
<line x1="144.68" y1="814.6" x2="144.68" y2="818.2" stroke="#111" stroke-width="1.5" stroke-linecap="butt"/>
<line x1="149.4" y1="814.6" x2="149.4" y2="818.2" stroke="#111" stroke-width="1.5" stroke-linecap="butt"/>
<line x1="153.49" y1="814.6" x2="153.49" y2="818.2" stroke="#111" stroke-width="1.5" stroke-linecap="butt"/>
<line x1="157.1" y1="814.6" x2="157.1" y2="818.2" stroke="#111" stroke-width="1.5" stroke-linecap="butt"/>
<line x1="160.33" y1="814.6" x2="160.33" y2="821.6" stroke="#111" stroke-width="2.4" stroke-linecap="butt"/>
<line x1="181.56" y1="814.6" x2="181.56" y2="818.2" stroke="#111" stroke-width="1.5" stroke-linecap="butt"/>
<line x1="193.98" y1="814.6" x2="193.98" y2="818.2" stroke="#111" stroke-width="1.5" stroke-linecap="butt"/>
<line x1="202.79" y1="814.6" x2="202.79" y2="818.2" stroke="#111" stroke-width="1.5" stroke-linecap="butt"/>
<line x1="209.63" y1="814.6" x2="209.63" y2="818.2" stroke="#111" stroke-width="1.5" stroke-linecap="butt"/>
<line x1="215.21" y1="814.6" x2="215.21" y2="818.2" stroke="#111" stroke-width="1.5" stroke-linecap="butt"/>
<line x1="219.93" y1="814.6" x2="219.93" y2="818.2" stroke="#111" stroke-width="1.5" stroke-linecap="butt"/>
<line x1="224.02" y1="814.6" x2="224.02" y2="818.2" stroke="#111" stroke-width="1.5" stroke-linecap="butt"/>
<line x1="227.63" y1="814.6" x2="227.63" y2="818.2" stroke="#111" stroke-width="1.5" stroke-linecap="butt"/>
<line x1="230.86" y1="814.6" x2="230.86" y2="821.6" stroke="#111" stroke-width="2.4" stroke-linecap="butt"/>
<line x1="252.09" y1="814.6" x2="252.09" y2="818.2" stroke="#111" stroke-width="1.5" stroke-linecap="butt"/>
<line x1="264.51" y1="814.6" x2="264.51" y2="818.2" stroke="#111" stroke-width="1.5" stroke-linecap="butt"/>
<line x1="273.32" y1="814.6" x2="273.32" y2="818.2" stroke="#111" stroke-width="1.5" stroke-linecap="butt"/>
<line x1="280.16" y1="814.6" x2="280.16" y2="818.2" stroke="#111" stroke-width="1.5" stroke-linecap="butt"/>
<line x1="285.74" y1="814.6" x2="285.74" y2="818.2" stroke="#111" stroke-width="1.5" stroke-linecap="butt"/>
<line x1="290.46" y1="814.6" x2="290.46" y2="818.2" stroke="#111" stroke-width="1.5" stroke-linecap="butt"/>
<line x1="294.55" y1="814.6" x2="294.55" y2="818.2" stroke="#111" stroke-width="1.5" stroke-linecap="butt"/>
<line x1="298.16" y1="814.6" x2="298.16" y2="818.2" stroke="#111" stroke-width="1.5" stroke-linecap="butt"/>
<line x1="301.39" y1="814.6" x2="301.39" y2="821.6" stroke="#111" stroke-width="2.4" stroke-linecap="butt"/>
<line x1="322.62" y1="814.6" x2="322.62" y2="818.2" stroke="#111" stroke-width="1.5" stroke-linecap="butt"/>
<line x1="335.04" y1="814.6" x2="335.04" y2="818.2" stroke="#111" stroke-width="1.5" stroke-linecap="butt"/>
<line x1="343.85" y1="814.6" x2="343.85" y2="818.2" stroke="#111" stroke-width="1.5" stroke-linecap="butt"/>
<line x1="350.69" y1="814.6" x2="350.69" y2="818.2" stroke="#111" stroke-width="1.5" stroke-linecap="butt"/>
<line x1="356.27" y1="814.6" x2="356.27" y2="818.2" stroke="#111" stroke-width="1.5" stroke-linecap="butt"/>
<line x1="360.99" y1="814.6" x2="360.99" y2="818.2" stroke="#111" stroke-width="1.5" stroke-linecap="butt"/>
<line x1="365.08" y1="814.6" x2="365.08" y2="818.2" stroke="#111" stroke-width="1.5" stroke-linecap="butt"/>
<line x1="368.69" y1="814.6" x2="368.69" y2="818.2" stroke="#111" stroke-width="1.5" stroke-linecap="butt"/>
<line x1="371.92" y1="814.6" x2="371.92" y2="821.6" stroke="#111" stroke-width="2.4" stroke-linecap="butt"/>
<line x1="393.15" y1="814.6" x2="393.15" y2="818.2" stroke="#111" stroke-width="1.5" stroke-linecap="butt"/>
<line x1="405.57" y1="814.6" x2="405.57" y2="818.2" stroke="#111" stroke-width="1.5" stroke-linecap="butt"/>
<line x1="414.38" y1="814.6" x2="414.38" y2="818.2" stroke="#111" stroke-width="1.5" stroke-linecap="butt"/>
<line x1="421.22" y1="814.6" x2="421.22" y2="818.2" stroke="#111" stroke-width="1.5" stroke-linecap="butt"/>
<line x1="426.8" y1="814.6" x2="426.8" y2="818.2" stroke="#111" stroke-width="1.5" stroke-linecap="butt"/>
<line x1="431.52" y1="814.6" x2="431.52" y2="818.2" stroke="#111" stroke-width="1.5" stroke-linecap="butt"/>
<line x1="435.61" y1="814.6" x2="435.61" y2="818.2" stroke="#111" stroke-width="1.5" stroke-linecap="butt"/>
<line x1="439.22" y1="814.6" x2="439.22" y2="818.2" stroke="#111" stroke-width="1.5" stroke-linecap="butt"/>
<line x1="442.45" y1="814.6" x2="442.45" y2="821.6" stroke="#111" stroke-width="2.4" stroke-linecap="butt"/>
<line x1="463.68" y1="814.6" x2="463.68" y2="818.2" stroke="#111" stroke-width="1.5" stroke-linecap="butt"/>
<line x1="476.1" y1="814.6" x2="476.1" y2="818.2" stroke="#111" stroke-width="1.5" stroke-linecap="butt"/>
<line x1="484.91" y1="814.6" x2="484.91" y2="818.2" stroke="#111" stroke-width="1.5" stroke-linecap="butt"/>
<line x1="491.75" y1="814.6" x2="491.75" y2="818.2" stroke="#111" stroke-width="1.5" stroke-linecap="butt"/>
<line x1="497.33" y1="814.6" x2="497.33" y2="818.2" stroke="#111" stroke-width="1.5" stroke-linecap="butt"/>
<line x1="502.05" y1="814.6" x2="502.05" y2="818.2" stroke="#111" stroke-width="1.5" stroke-linecap="butt"/>
<line x1="506.14" y1="814.6" x2="506.14" y2="818.2" stroke="#111" stroke-width="1.5" stroke-linecap="butt"/>
<line x1="509.75" y1="814.6" x2="509.75" y2="818.2" stroke="#111" stroke-width="1.5" stroke-linecap="butt"/>
<line x1="512.98" y1="814.6" x2="512.98" y2="821.6" stroke="#111" stroke-width="2.4" stroke-linecap="butt"/>
<line x1="89.8" y1="595.4" x2="89.8" y2="648.1" stroke="#222" stroke-width="1.6" stroke-linecap="butt"/>
<line x1="84.05" y1="595.4" x2="95.55" y2="595.4" stroke="#222" stroke-width="1.6" stroke-linecap="butt"/>
<line x1="84.05" y1="648.1" x2="95.55" y2="648.1" stroke="#222" stroke-width="1.6" stroke-linecap="butt"/>
<line x1="422.12" y1="623.3" x2="422.12" y2="707.4" stroke="#222" stroke-width="1.6" stroke-linecap="butt"/>
<line x1="416.37" y1="623.3" x2="427.87" y2="623.3" stroke="#222" stroke-width="1.6" stroke-linecap="butt"/>
<line x1="416.37" y1="707.4" x2="427.87" y2="707.4" stroke="#222" stroke-width="1.6" stroke-linecap="butt"/>
<line x1="443.35" y1="710.2" x2="443.35" y2="745.6" stroke="#222" stroke-width="1.6" stroke-linecap="butt"/>
<line x1="437.6" y1="710.2" x2="449.1" y2="710.2" stroke="#222" stroke-width="1.6" stroke-linecap="butt"/>
<line x1="437.6" y1="745.6" x2="449.1" y2="745.6" stroke="#222" stroke-width="1.6" stroke-linecap="butt"/>
<line x1="464.58" y1="707.4" x2="464.58" y2="751.1" stroke="#222" stroke-width="1.6" stroke-linecap="butt"/>
<line x1="458.83" y1="707.4" x2="470.33" y2="707.4" stroke="#222" stroke-width="1.6" stroke-linecap="butt"/>
<line x1="458.83" y1="751.1" x2="470.33" y2="751.1" stroke="#222" stroke-width="1.6" stroke-linecap="butt"/>
<path d="M96.70,622.50 L96.63,623.17 L96.43,623.97 L96.10,624.80 L95.65,625.62 L95.10,626.41 L94.44,627.14 L93.71,627.80 L92.92,628.35 L92.10,628.80 L91.27,629.13 L90.47,629.33 L89.80,629.40 L89.13,629.33 L88.33,629.13 L87.50,628.80 L86.68,628.35 L85.89,627.80 L85.16,627.14 L84.50,626.41 L83.95,625.62 L83.50,624.80 L83.17,623.97 L82.97,623.17 L82.90,622.50 L82.97,621.83 L83.17,621.03 L83.50,620.20 L83.95,619.38 L84.50,618.59 L85.16,617.86 L85.89,617.20 L86.68,616.65 L87.50,616.20 L88.33,615.87 L89.13,615.67 L89.80,615.60 L90.47,615.67 L91.27,615.87 L92.10,616.20 L92.92,616.65 L93.71,617.20 L94.44,617.86 L95.10,618.59 L95.65,619.38 L96.10,620.20 L96.43,621.03 L96.63,621.83Z" fill="#0a0a0a"/>
<path d="M407.79,662.60 L407.72,663.27 L407.52,664.07 L407.19,664.90 L406.74,665.72 L406.18,666.51 L405.53,667.24 L404.80,667.90 L404.01,668.45 L403.19,668.90 L402.36,669.23 L401.56,669.43 L400.89,669.50 L400.21,669.43 L399.41,669.23 L398.58,668.90 L397.76,668.45 L396.97,667.90 L396.24,667.24 L395.59,666.51 L395.03,665.72 L394.58,664.90 L394.25,664.07 L394.05,663.27 L393.99,662.60 L394.05,661.93 L394.25,661.13 L394.58,660.30 L395.03,659.48 L395.59,658.69 L396.24,657.96 L396.97,657.30 L397.76,656.75 L398.58,656.30 L399.41,655.97 L400.21,655.77 L400.89,655.70 L401.56,655.77 L402.36,655.97 L403.19,656.30 L404.01,656.75 L404.80,657.30 L405.53,657.96 L406.18,658.69 L406.74,659.48 L407.19,660.30 L407.52,661.13 L407.72,661.93Z" fill="#0a0a0a"/>
<path d="M429.02,665.90 L428.95,666.57 L428.75,667.37 L428.42,668.20 L427.97,669.02 L427.41,669.81 L426.76,670.54 L426.03,671.20 L425.24,671.75 L424.42,672.20 L423.59,672.53 L422.79,672.73 L422.12,672.80 L421.45,672.73 L420.65,672.53 L419.82,672.20 L418.99,671.75 L418.21,671.20 L417.47,670.54 L416.82,669.81 L416.26,669.02 L415.82,668.20 L415.49,667.37 L415.29,666.57 L415.22,665.90 L415.29,665.23 L415.49,664.43 L415.82,663.60 L416.26,662.78 L416.82,661.99 L417.47,661.26 L418.21,660.60 L418.99,660.05 L419.82,659.60 L420.65,659.27 L421.45,659.07 L422.12,659.00 L422.79,659.07 L423.59,659.27 L424.42,659.60 L425.24,660.05 L426.03,660.60 L426.76,661.26 L427.41,661.99 L427.97,662.78 L428.42,663.60 L428.75,664.43 L428.95,665.23Z" fill="#0a0a0a"/>
<path d="M450.25,728.10 L450.18,728.77 L449.98,729.57 L449.65,730.40 L449.20,731.22 L448.65,732.01 L447.99,732.74 L447.26,733.40 L446.47,733.95 L445.65,734.40 L444.82,734.73 L444.02,734.93 L443.35,735.00 L442.68,734.93 L441.88,734.73 L441.05,734.40 L440.23,733.95 L439.44,733.40 L438.71,732.74 L438.05,732.01 L437.50,731.22 L437.05,730.40 L436.72,729.57 L436.52,728.77 L436.45,728.10 L436.52,727.43 L436.72,726.63 L437.05,725.80 L437.50,724.98 L438.05,724.19 L438.71,723.46 L439.44,722.80 L440.23,722.25 L441.05,721.80 L441.88,721.47 L442.68,721.27 L443.35,721.20 L444.02,721.27 L444.82,721.47 L445.65,721.80 L446.47,722.25 L447.26,722.80 L447.99,723.46 L448.65,724.19 L449.20,724.98 L449.65,725.80 L449.98,726.63 L450.18,727.43Z" fill="#0a0a0a"/>
<path d="M471.48,729.50 L471.41,730.17 L471.21,730.97 L470.88,731.80 L470.44,732.62 L469.88,733.41 L469.23,734.14 L468.49,734.80 L467.71,735.35 L466.88,735.80 L466.05,736.13 L465.25,736.33 L464.58,736.40 L463.91,736.33 L463.11,736.13 L462.28,735.80 L461.46,735.35 L460.67,734.80 L459.94,734.14 L459.29,733.41 L458.73,732.62 L458.28,731.80 L457.95,730.97 L457.75,730.17 L457.68,729.50 L457.75,728.83 L457.95,728.03 L458.28,727.20 L458.73,726.38 L459.29,725.59 L459.94,724.86 L460.67,724.20 L461.46,723.65 L462.28,723.20 L463.11,722.87 L463.91,722.67 L464.58,722.60 L465.25,722.67 L466.05,722.87 L466.88,723.20 L467.71,723.65 L468.49,724.20 L469.23,724.86 L469.88,725.59 L470.44,726.38 L470.88,727.20 L471.21,728.03 L471.41,728.83Z" fill="#0a0a0a"/>
<path d="M499.55,751.10 L499.48,751.77 L499.28,752.57 L498.95,753.40 L498.50,754.22 L497.94,755.01 L497.29,755.74 L496.56,756.40 L495.77,756.95 L494.95,757.40 L494.12,757.73 L493.32,757.93 L492.65,758.00 L491.98,757.93 L491.18,757.73 L490.35,757.40 L489.52,756.95 L488.74,756.40 L488.00,755.74 L487.35,755.01 L486.79,754.22 L486.35,753.40 L486.02,752.57 L485.82,751.77 L485.75,751.10 L485.82,750.43 L486.02,749.63 L486.35,748.80 L486.79,747.98 L487.35,747.19 L488.00,746.46 L488.74,745.80 L489.52,745.25 L490.35,744.80 L491.18,744.47 L491.98,744.27 L492.65,744.20 L493.32,744.27 L494.12,744.47 L494.95,744.80 L495.77,745.25 L496.56,745.80 L497.29,746.46 L497.94,747.19 L498.50,747.98 L498.95,748.80 L499.28,749.63 L499.48,750.43Z" fill="#0a0a0a"/>
<text transform="matrix(0.26781 0 0 0.30147 45.39 824.40)" font-family="Liberation Serif, serif" font-size="100" fill="#111" stroke="#111" stroke-width="0.88" stroke-linejoin="round">0.0</text>
<text transform="matrix(0.26781 0 0 0.30147 45.39 753.65)" font-family="Liberation Serif, serif" font-size="100" fill="#111" stroke="#111" stroke-width="0.88" stroke-linejoin="round">0.5</text>
<text transform="matrix(0.26781 0 0 0.30147 45.39 682.90)" font-family="Liberation Serif, serif" font-size="100" fill="#111" stroke="#111" stroke-width="0.88" stroke-linejoin="round">1.0</text>
<text transform="matrix(0.26781 0 0 0.30147 45.39 612.00)" font-family="Liberation Serif, serif" font-size="100" fill="#111" stroke="#111" stroke-width="0.88" stroke-linejoin="round">1.5</text>
<text transform="matrix(0.26781 0 0 0.30147 45.39 541.40)" font-family="Liberation Serif, serif" font-size="100" fill="#111" stroke="#111" stroke-width="0.88" stroke-linejoin="round">2.0</text>
<text transform="matrix(0.26047 0 0 0.28382 60.76 849.07)" font-family="Liberation Serif, serif" font-size="100" fill="#111" stroke="#111" stroke-width="0.92" stroke-linejoin="round">0.001</text>
<text transform="matrix(0.26047 0 0 0.28382 137.80 849.07)" font-family="Liberation Serif, serif" font-size="100" fill="#111" stroke="#111" stroke-width="0.92" stroke-linejoin="round">0.01</text>
<text transform="matrix(0.26047 0 0 0.28382 214.84 849.07)" font-family="Liberation Serif, serif" font-size="100" fill="#111" stroke="#111" stroke-width="0.92" stroke-linejoin="round">0.1</text>
<text transform="matrix(0.26047 0 0 0.28382 294.49 848.79)" font-family="Liberation Serif, serif" font-size="100" fill="#111" stroke="#111" stroke-width="0.92" stroke-linejoin="round">1</text>
<text transform="matrix(0.26047 0 0 0.28382 358.25 849.07)" font-family="Liberation Serif, serif" font-size="100" fill="#111" stroke="#111" stroke-width="0.92" stroke-linejoin="round">10</text>
<text transform="matrix(0.26047 0 0 0.28382 422.26 849.07)" font-family="Liberation Serif, serif" font-size="100" fill="#111" stroke="#111" stroke-width="0.92" stroke-linejoin="round">100</text>
<text transform="matrix(0.26047 0 0 0.28382 486.28 849.07)" font-family="Liberation Serif, serif" font-size="100" fill="#111" stroke="#111" stroke-width="0.92" stroke-linejoin="round">1000</text>
<text transform="matrix(0 -0.26241 0.28519 0 33.46 752.30)" font-family="Liberation Serif, serif" font-size="100" fill="#454545">OD450-OD540</text>
<text transform="matrix(0.26353 0 0 0.26383 149.14 882.60)" font-family="Liberation Serif, serif" font-size="100" fill="#111" stroke="#111" stroke-width="0.95" stroke-linejoin="round">Anti mPD-L1 Ab conc. (nM)</text>
<rect x="714.4" y="567.53" width="30" height="279.87" fill="#070707"/>
<rect x="848.3" y="648.55" width="29.6" height="198.85" fill="#aaa6a6"/>
<rect x="887.3" y="823.43" width="28.6" height="23.97" fill="#d9d9d9"/>
<rect x="983.6" y="603.99" width="29.2" height="243.41" fill="#aaa6a6"/>
<rect x="1020" y="775.29" width="29.3" height="72.11" fill="#d9d9d9"/>
<line x1="728.8" y1="529.6" x2="728.8" y2="604.7" stroke="#404040" stroke-width="1.6" stroke-linecap="butt"/>
<line x1="722.05" y1="529.6" x2="735.55" y2="529.6" stroke="#404040" stroke-width="1.6" stroke-linecap="butt"/>
<line x1="722.05" y1="604.7" x2="735.55" y2="604.7" stroke="#404040" stroke-width="1.6" stroke-linecap="butt"/>
<line x1="863.3" y1="640.7" x2="863.3" y2="655.9" stroke="#404040" stroke-width="1.6" stroke-linecap="butt"/>
<line x1="856.55" y1="640.7" x2="870.05" y2="640.7" stroke="#404040" stroke-width="1.6" stroke-linecap="butt"/>
<line x1="856.55" y1="655.9" x2="870.05" y2="655.9" stroke="#404040" stroke-width="1.6" stroke-linecap="butt"/>
<line x1="900.7" y1="819.5" x2="900.7" y2="828.3" stroke="#404040" stroke-width="1.6" stroke-linecap="butt"/>
<line x1="893.95" y1="819.5" x2="907.45" y2="819.5" stroke="#404040" stroke-width="1.6" stroke-linecap="butt"/>
<line x1="893.95" y1="828.3" x2="907.45" y2="828.3" stroke="#404040" stroke-width="1.6" stroke-linecap="butt"/>
<line x1="997.2" y1="561.6" x2="997.2" y2="645.2" stroke="#404040" stroke-width="1.6" stroke-linecap="butt"/>
<line x1="990.45" y1="561.6" x2="1003.95" y2="561.6" stroke="#404040" stroke-width="1.6" stroke-linecap="butt"/>
<line x1="990.45" y1="645.2" x2="1003.95" y2="645.2" stroke="#404040" stroke-width="1.6" stroke-linecap="butt"/>
<line x1="1036.3" y1="769.8" x2="1036.3" y2="778.5" stroke="#404040" stroke-width="1.6" stroke-linecap="butt"/>
<line x1="1029.55" y1="769.8" x2="1043.05" y2="769.8" stroke="#404040" stroke-width="1.6" stroke-linecap="butt"/>
<line x1="1029.55" y1="778.5" x2="1043.05" y2="778.5" stroke="#404040" stroke-width="1.6" stroke-linecap="butt"/>
<line x1="681.5" y1="509.8" x2="681.5" y2="847.4" stroke="#111" stroke-width="2.4" stroke-linecap="butt"/>
<line x1="672.4" y1="847.4" x2="1083.4" y2="847.4" stroke="#111" stroke-width="2.4" stroke-linecap="butt"/>
<line x1="672.4" y1="847.4" x2="681.5" y2="847.4" stroke="#111" stroke-width="2.4" stroke-linecap="butt"/>
<line x1="672.4" y1="779.88" x2="681.5" y2="779.88" stroke="#111" stroke-width="2.4" stroke-linecap="butt"/>
<line x1="672.4" y1="712.36" x2="681.5" y2="712.36" stroke="#111" stroke-width="2.4" stroke-linecap="butt"/>
<line x1="672.4" y1="644.84" x2="681.5" y2="644.84" stroke="#111" stroke-width="2.4" stroke-linecap="butt"/>
<line x1="672.4" y1="577.32" x2="681.5" y2="577.32" stroke="#111" stroke-width="2.4" stroke-linecap="butt"/>
<line x1="672.4" y1="509.8" x2="681.5" y2="509.8" stroke="#111" stroke-width="2.4" stroke-linecap="butt"/>
<text transform="matrix(0.28205 0 0 0.27059 640.23 856.26)" font-family="Liberation Serif, serif" font-size="100" fill="#5a5a5a" stroke="#5a5a5a" stroke-width="0.36" stroke-linejoin="round">0</text>
<text transform="matrix(0.28205 0 0 0.27059 619.49 788.67)" font-family="Liberation Serif, serif" font-size="100" fill="#5a5a5a" stroke="#5a5a5a" stroke-width="0.36" stroke-linejoin="round">0.2</text>
<text transform="matrix(0.28205 0 0 0.27059 618.37 721.15)" font-family="Liberation Serif, serif" font-size="100" fill="#5a5a5a" stroke="#5a5a5a" stroke-width="0.36" stroke-linejoin="round">0.4</text>
<text transform="matrix(0.28205 0 0 0.27059 618.79 653.63)" font-family="Liberation Serif, serif" font-size="100" fill="#5a5a5a" stroke="#5a5a5a" stroke-width="0.36" stroke-linejoin="round">0.6</text>
<text transform="matrix(0.28205 0 0 0.27059 619.07 586.11)" font-family="Liberation Serif, serif" font-size="100" fill="#5a5a5a" stroke="#5a5a5a" stroke-width="0.36" stroke-linejoin="round">0.8</text>
<text transform="matrix(0.28205 0 0 0.27059 640.79 518.66)" font-family="Liberation Serif, serif" font-size="100" fill="#5a5a5a" stroke="#5a5a5a" stroke-width="0.36" stroke-linejoin="round">1</text>
<text transform="matrix(0 -0.27665 0.30519 0 605.79 765.91)" font-family="Liberation Serif, serif" font-size="100" fill="#5a5a5a" stroke="#5a5a5a" stroke-width="0.34" stroke-linejoin="round">OD450-OD540</text>
<text transform="matrix(0.27384 0 0 0.27429 703.60 888.93)" font-family="Liberation Serif, serif" font-size="100" fill="#3c3c3c" stroke="#3c3c3c" stroke-width="0.55" stroke-linejoin="round">C<tspan dx="12">ontrol</tspan></text>
<text transform="matrix(0.23895 0 0 0.28444 845.94 888.77)" font-family="Liberation Serif, serif" font-size="100" fill="#3c3c3c" stroke="#3c3c3c" stroke-width="0.58" stroke-linejoin="round">C<tspan dx="15">L</tspan><tspan dx="12">V</tspan><tspan dx="16">3</tspan></text>
<text transform="matrix(0.27402 0 0 0.27429 957.18 888.93)" font-family="Liberation Serif, serif" font-size="100" fill="#3c3c3c" stroke="#3c3c3c" stroke-width="0.55" stroke-linejoin="round">PD-L<tspan dx="14">1</tspan><tspan dx="14"> Ab</tspan></text>
<rect x="1030.9" y="516" width="14.4" height="14.3" fill="#aaa6a6"/>
<rect x="1030.9" y="554.9" width="14.4" height="13.7" fill="#d9d9d9"/>
<text transform="matrix(0.28449 0 0 0.29008 1052.24 532.30)" font-family="Liberation Serif, serif" font-size="100" fill="#2a2a2a" stroke="#2a2a2a" stroke-width="0.70" stroke-linejoin="round">1 µM</text>
<text transform="matrix(0.28825 0 0 0.27704 1052.21 570.82)" font-family="Liberation Serif, serif" font-size="100" fill="#2a2a2a" stroke="#2a2a2a" stroke-width="0.71" stroke-linejoin="round">10 µM</text>
<line x1="1243.8" y1="518.1" x2="1243.8" y2="851.7" stroke="#111" stroke-width="2.2" stroke-linecap="butt"/>
<line x1="1235" y1="851.7" x2="1760.2" y2="851.7" stroke="#111" stroke-width="2.2" stroke-linecap="butt"/>
<line x1="1235" y1="851.7" x2="1243.8" y2="851.7" stroke="#111" stroke-width="2.2" stroke-linecap="butt"/>
<line x1="1235" y1="784.98" x2="1243.8" y2="784.98" stroke="#111" stroke-width="2.2" stroke-linecap="butt"/>
<line x1="1235" y1="718.26" x2="1243.8" y2="718.26" stroke="#111" stroke-width="2.2" stroke-linecap="butt"/>
<line x1="1235" y1="651.54" x2="1243.8" y2="651.54" stroke="#111" stroke-width="2.2" stroke-linecap="butt"/>
<line x1="1235" y1="584.82" x2="1243.8" y2="584.82" stroke="#111" stroke-width="2.2" stroke-linecap="butt"/>
<line x1="1235" y1="518.1" x2="1243.8" y2="518.1" stroke="#111" stroke-width="2.2" stroke-linecap="butt"/>
<line x1="1243.8" y1="851.7" x2="1243.8" y2="860.6" stroke="#111" stroke-width="2.2" stroke-linecap="butt"/>
<line x1="1282.66" y1="851.7" x2="1282.66" y2="858" stroke="#111" stroke-width="1.8" stroke-linecap="butt"/>
<line x1="1305.4" y1="851.7" x2="1305.4" y2="858" stroke="#111" stroke-width="1.8" stroke-linecap="butt"/>
<line x1="1321.53" y1="851.7" x2="1321.53" y2="858" stroke="#111" stroke-width="1.8" stroke-linecap="butt"/>
<line x1="1334.04" y1="851.7" x2="1334.04" y2="858" stroke="#111" stroke-width="1.8" stroke-linecap="butt"/>
<line x1="1344.26" y1="851.7" x2="1344.26" y2="858" stroke="#111" stroke-width="1.8" stroke-linecap="butt"/>
<line x1="1352.9" y1="851.7" x2="1352.9" y2="858" stroke="#111" stroke-width="1.8" stroke-linecap="butt"/>
<line x1="1360.39" y1="851.7" x2="1360.39" y2="858" stroke="#111" stroke-width="1.8" stroke-linecap="butt"/>
<line x1="1366.99" y1="851.7" x2="1366.99" y2="858" stroke="#111" stroke-width="1.8" stroke-linecap="butt"/>
<line x1="1372.9" y1="851.7" x2="1372.9" y2="860.6" stroke="#111" stroke-width="2.2" stroke-linecap="butt"/>
<line x1="1411.76" y1="851.7" x2="1411.76" y2="858" stroke="#111" stroke-width="1.8" stroke-linecap="butt"/>
<line x1="1434.5" y1="851.7" x2="1434.5" y2="858" stroke="#111" stroke-width="1.8" stroke-linecap="butt"/>
<line x1="1450.63" y1="851.7" x2="1450.63" y2="858" stroke="#111" stroke-width="1.8" stroke-linecap="butt"/>
<line x1="1463.14" y1="851.7" x2="1463.14" y2="858" stroke="#111" stroke-width="1.8" stroke-linecap="butt"/>
<line x1="1473.36" y1="851.7" x2="1473.36" y2="858" stroke="#111" stroke-width="1.8" stroke-linecap="butt"/>
<line x1="1482" y1="851.7" x2="1482" y2="858" stroke="#111" stroke-width="1.8" stroke-linecap="butt"/>
<line x1="1489.49" y1="851.7" x2="1489.49" y2="858" stroke="#111" stroke-width="1.8" stroke-linecap="butt"/>
<line x1="1496.09" y1="851.7" x2="1496.09" y2="858" stroke="#111" stroke-width="1.8" stroke-linecap="butt"/>
<line x1="1502" y1="851.7" x2="1502" y2="860.6" stroke="#111" stroke-width="2.2" stroke-linecap="butt"/>
<line x1="1540.86" y1="851.7" x2="1540.86" y2="858" stroke="#111" stroke-width="1.8" stroke-linecap="butt"/>
<line x1="1563.6" y1="851.7" x2="1563.6" y2="858" stroke="#111" stroke-width="1.8" stroke-linecap="butt"/>
<line x1="1579.73" y1="851.7" x2="1579.73" y2="858" stroke="#111" stroke-width="1.8" stroke-linecap="butt"/>
<line x1="1592.24" y1="851.7" x2="1592.24" y2="858" stroke="#111" stroke-width="1.8" stroke-linecap="butt"/>
<line x1="1602.46" y1="851.7" x2="1602.46" y2="858" stroke="#111" stroke-width="1.8" stroke-linecap="butt"/>
<line x1="1611.1" y1="851.7" x2="1611.1" y2="858" stroke="#111" stroke-width="1.8" stroke-linecap="butt"/>
<line x1="1618.59" y1="851.7" x2="1618.59" y2="858" stroke="#111" stroke-width="1.8" stroke-linecap="butt"/>
<line x1="1625.19" y1="851.7" x2="1625.19" y2="858" stroke="#111" stroke-width="1.8" stroke-linecap="butt"/>
<line x1="1631.1" y1="851.7" x2="1631.1" y2="860.6" stroke="#111" stroke-width="2.2" stroke-linecap="butt"/>
<line x1="1669.96" y1="851.7" x2="1669.96" y2="858" stroke="#111" stroke-width="1.8" stroke-linecap="butt"/>
<line x1="1692.7" y1="851.7" x2="1692.7" y2="858" stroke="#111" stroke-width="1.8" stroke-linecap="butt"/>
<line x1="1708.83" y1="851.7" x2="1708.83" y2="858" stroke="#111" stroke-width="1.8" stroke-linecap="butt"/>
<line x1="1721.34" y1="851.7" x2="1721.34" y2="858" stroke="#111" stroke-width="1.8" stroke-linecap="butt"/>
<line x1="1731.56" y1="851.7" x2="1731.56" y2="858" stroke="#111" stroke-width="1.8" stroke-linecap="butt"/>
<line x1="1740.2" y1="851.7" x2="1740.2" y2="858" stroke="#111" stroke-width="1.8" stroke-linecap="butt"/>
<line x1="1747.69" y1="851.7" x2="1747.69" y2="858" stroke="#111" stroke-width="1.8" stroke-linecap="butt"/>
<line x1="1754.29" y1="851.7" x2="1754.29" y2="858" stroke="#111" stroke-width="1.8" stroke-linecap="butt"/>
<line x1="1760.2" y1="851.7" x2="1760.2" y2="860.6" stroke="#111" stroke-width="2.2" stroke-linecap="butt"/>
<path d="M1372.90,848.97 L1374.33,848.89 L1375.76,848.81 L1377.18,848.73 L1378.61,848.64 L1380.04,848.56 L1381.47,848.47 L1382.90,848.38 L1384.33,848.28 L1385.75,848.19 L1387.18,848.09 L1388.61,847.99 L1390.04,847.89 L1391.47,847.78 L1392.89,847.67 L1394.32,847.56 L1395.75,847.45 L1397.18,847.33 L1398.61,847.21 L1400.04,847.09 L1401.46,846.97 L1402.89,846.84 L1404.32,846.71 L1405.75,846.58 L1407.18,846.44 L1408.60,846.30 L1410.03,846.16 L1411.46,846.01 L1412.89,845.86 L1414.32,845.71 L1415.75,845.55 L1417.17,845.39 L1418.60,845.22 L1420.03,845.05 L1421.46,844.88 L1422.89,844.70 L1424.31,844.52 L1425.74,844.34 L1427.17,844.15 L1428.60,843.95 L1430.03,843.75 L1431.45,843.55 L1432.88,843.34 L1434.31,843.13 L1435.74,842.91 L1437.17,842.69 L1438.60,842.46 L1440.02,842.23 L1441.45,841.99 L1442.88,841.74 L1444.31,841.49 L1445.74,841.24 L1447.16,840.98 L1448.59,840.71 L1450.02,840.44 L1451.45,840.16 L1452.88,839.87 L1454.31,839.58 L1455.73,839.28 L1457.16,838.97 L1458.59,838.66 L1460.02,838.34 L1461.45,838.01 L1462.87,837.67 L1464.30,837.33 L1465.73,836.98 L1467.16,836.62 L1468.59,836.26 L1470.02,835.88 L1471.44,835.50 L1472.87,835.11 L1474.30,834.71 L1475.73,834.30 L1477.16,833.88 L1478.58,833.46 L1480.01,833.02 L1481.44,832.58 L1482.87,832.12 L1484.30,831.66 L1485.73,831.18 L1487.15,830.70 L1488.58,830.20 L1490.01,829.69 L1491.44,829.18 L1492.87,828.65 L1494.29,828.11 L1495.72,827.56 L1497.15,827.00 L1498.58,826.42 L1500.01,825.84 L1501.44,825.24 L1502.86,824.63 L1504.29,824.01 L1505.72,823.37 L1507.15,822.73 L1508.58,822.06 L1510.00,821.39 L1511.43,820.70 L1512.86,820.00 L1514.29,819.28 L1515.72,818.55 L1517.15,817.81 L1518.57,817.05 L1520.00,816.28 L1521.43,815.49 L1522.86,814.69 L1524.29,813.87 L1525.71,813.03 L1527.14,812.18 L1528.57,811.32 L1530.00,810.44 L1531.43,809.54 L1532.85,808.63 L1534.28,807.70 L1535.71,806.75 L1537.14,805.78 L1538.57,804.80 L1540.00,803.80 L1541.42,802.79 L1542.85,801.75 L1544.28,800.70 L1545.71,799.63 L1547.14,798.55 L1548.56,797.44 L1549.99,796.32 L1551.42,795.18 L1552.85,794.02 L1554.28,792.84 L1555.71,791.64 L1557.13,790.43 L1558.56,789.19 L1559.99,787.94 L1561.42,786.67 L1562.85,785.38 L1564.27,784.07 L1565.70,782.74 L1567.13,781.39 L1568.56,780.02 L1569.99,778.64 L1571.42,777.23 L1572.84,775.81 L1574.27,774.37 L1575.70,772.91 L1577.13,771.43 L1578.56,769.93 L1579.98,768.41 L1581.41,766.88 L1582.84,765.32 L1584.27,763.75 L1585.70,762.16 L1587.13,760.56 L1588.55,758.93 L1589.98,757.29 L1591.41,755.63 L1592.84,753.95 L1594.27,752.26 L1595.69,750.55 L1597.12,748.83 L1598.55,747.08 L1599.98,745.33 L1601.41,743.55 L1602.84,741.77 L1604.26,739.96 L1605.69,738.15 L1607.12,736.32 L1608.55,734.47 L1609.98,732.62 L1611.40,730.75 L1612.83,728.87 L1614.26,726.97 L1615.69,725.07 L1617.12,723.15 L1618.55,721.23 L1619.97,719.29 L1621.40,717.34 L1622.83,715.39 L1624.26,713.43 L1625.69,711.46 L1627.11,709.48 L1628.54,707.49 L1629.97,705.50 L1631.40,703.51 L1632.83,701.51 L1634.25,699.50 L1635.68,697.49 L1637.11,695.48 L1638.54,693.46 L1639.97,691.44 L1641.40,689.43 L1642.82,687.41 L1644.25,685.38 L1645.68,683.36 L1647.11,681.35 L1648.54,679.33 L1649.96,677.31 L1651.39,675.30 L1652.82,673.29 L1654.25,671.28 L1655.68,669.28 L1657.11,667.28 L1658.53,665.29 L1659.96,663.31 L1661.39,661.33 L1662.82,659.36 L1664.25,657.40 L1665.67,655.44 L1667.10,653.50 L1668.53,651.56 L1669.96,649.63 L1671.39,647.72 L1672.82,645.81 L1674.24,643.92 L1675.67,642.03 L1677.10,640.16 L1678.53,638.31 L1679.96,636.46 L1681.38,634.63 L1682.81,632.81 L1684.24,631.01 L1685.67,629.22 L1687.10,627.45 L1688.53,625.69 L1689.95,623.95 L1691.38,622.22 L1692.81,620.51 L1694.24,618.81 L1695.67,617.14 L1697.09,615.48 L1698.52,613.83 L1699.95,612.21 L1701.38,610.60 L1702.81,609.01 L1704.24,607.44 L1705.66,605.88 L1707.09,604.35 L1708.52,602.83 L1709.95,601.33 L1711.38,599.85 L1712.80,598.39 L1714.23,596.94 L1715.66,595.52" stroke="#27297f" stroke-width="3.2" fill="none" stroke-linejoin="round" stroke-linecap="round"/>
<path d="M1372.90,848.63 L1374.34,848.57 L1375.77,848.51 L1377.21,848.45 L1378.64,848.39 L1380.08,848.33 L1381.52,848.26 L1382.95,848.20 L1384.39,848.13 L1385.83,848.06 L1387.26,847.99 L1388.70,847.92 L1390.13,847.85 L1391.57,847.78 L1393.01,847.71 L1394.44,847.63 L1395.88,847.56 L1397.32,847.48 L1398.75,847.40 L1400.19,847.32 L1401.62,847.24 L1403.06,847.15 L1404.50,847.07 L1405.93,846.98 L1407.37,846.90 L1408.81,846.81 L1410.24,846.72 L1411.68,846.62 L1413.11,846.53 L1414.55,846.44 L1415.99,846.34 L1417.42,846.24 L1418.86,846.14 L1420.30,846.04 L1421.73,845.93 L1423.17,845.83 L1424.60,845.72 L1426.04,845.61 L1427.48,845.50 L1428.91,845.39 L1430.35,845.27 L1431.79,845.16 L1433.22,845.04 L1434.66,844.92 L1436.09,844.80 L1437.53,844.67 L1438.97,844.54 L1440.40,844.41 L1441.84,844.28 L1443.28,844.15 L1444.71,844.01 L1446.15,843.88 L1447.58,843.74 L1449.02,843.59 L1450.46,843.45 L1451.89,843.30 L1453.33,843.15 L1454.77,843.00 L1456.20,842.84 L1457.64,842.68 L1459.07,842.52 L1460.51,842.36 L1461.95,842.20 L1463.38,842.03 L1464.82,841.86 L1466.26,841.68 L1467.69,841.50 L1469.13,841.32 L1470.56,841.14 L1472.00,840.96 L1473.44,840.77 L1474.87,840.57 L1476.31,840.38 L1477.75,840.18 L1479.18,839.98 L1480.62,839.77 L1482.05,839.57 L1483.49,839.35 L1484.93,839.14 L1486.36,838.92 L1487.80,838.70 L1489.24,838.47 L1490.67,838.24 L1492.11,838.01 L1493.54,837.77 L1494.98,837.53 L1496.42,837.29 L1497.85,837.04 L1499.29,836.79 L1500.73,836.53 L1502.16,836.27 L1503.60,836.00 L1505.03,835.73 L1506.47,835.46 L1507.91,835.18 L1509.34,834.90 L1510.78,834.62 L1512.22,834.32 L1513.65,834.03 L1515.09,833.73 L1516.52,833.42 L1517.96,833.12 L1519.40,832.80 L1520.83,832.48 L1522.27,832.16 L1523.70,831.83 L1525.14,831.50 L1526.58,831.16 L1528.01,830.81 L1529.45,830.46 L1530.89,830.11 L1532.32,829.75 L1533.76,829.38 L1535.19,829.01 L1536.63,828.64 L1538.07,828.25 L1539.50,827.87 L1540.94,827.47 L1542.38,827.07 L1543.81,826.67 L1545.25,826.26 L1546.68,825.84 L1548.12,825.42 L1549.56,824.99 L1550.99,824.55 L1552.43,824.11 L1553.87,823.66 L1555.30,823.21 L1556.74,822.75 L1558.17,822.28 L1559.61,821.81 L1561.05,821.33 L1562.48,820.84 L1563.92,820.35 L1565.36,819.84 L1566.79,819.34 L1568.23,818.82 L1569.66,818.30 L1571.10,817.77 L1572.54,817.24 L1573.97,816.69 L1575.41,816.14 L1576.85,815.58 L1578.28,815.02 L1579.72,814.45 L1581.15,813.87 L1582.59,813.28 L1584.03,812.69 L1585.46,812.08 L1586.90,811.47 L1588.34,810.85 L1589.77,810.23 L1591.21,809.59 L1592.64,808.95 L1594.08,808.30 L1595.52,807.65 L1596.95,806.98 L1598.39,806.31 L1599.83,805.62 L1601.26,804.93 L1602.70,804.24 L1604.13,803.53 L1605.57,802.82 L1607.01,802.09 L1608.44,801.36 L1609.88,800.62 L1611.32,799.87 L1612.75,799.12 L1614.19,798.35 L1615.62,797.58 L1617.06,796.80 L1618.50,796.01 L1619.93,795.21 L1621.37,794.41 L1622.81,793.59 L1624.24,792.77 L1625.68,791.93 L1627.11,791.09 L1628.55,790.24 L1629.99,789.39 L1631.42,788.52 L1632.86,787.65 L1634.30,786.76 L1635.73,785.87 L1637.17,784.97 L1638.60,784.06 L1640.04,783.15 L1641.48,782.22 L1642.91,781.29 L1644.35,780.35 L1645.79,779.40 L1647.22,778.44 L1648.66,777.48 L1650.09,776.50 L1651.53,775.52 L1652.97,774.53 L1654.40,773.53 L1655.84,772.53 L1657.28,771.52 L1658.71,770.50 L1660.15,769.47 L1661.58,768.43 L1663.02,767.39 L1664.46,766.34 L1665.89,765.28 L1667.33,764.21 L1668.76,763.14 L1670.20,762.06 L1671.64,760.98 L1673.07,759.88 L1674.51,758.79 L1675.95,757.68 L1677.38,756.57 L1678.82,755.45 L1680.25,754.32 L1681.69,753.19 L1683.13,752.06 L1684.56,750.91 L1686.00,749.76 L1687.44,748.61 L1688.87,747.45 L1690.31,746.29 L1691.74,745.12 L1693.18,743.94 L1694.62,742.76 L1696.05,741.58 L1697.49,740.39 L1698.93,739.20 L1700.36,738.00 L1701.80,736.80 L1703.23,735.60 L1704.67,734.39 L1706.11,733.18 L1707.54,731.96 L1708.98,730.75 L1710.42,729.53 L1711.85,728.30 L1713.29,727.08 L1714.72,725.85 L1716.16,724.62 L1717.60,723.38" stroke="#d81a66" stroke-width="3.2" fill="none" stroke-linejoin="round" stroke-linecap="round"/>
<line x1="1593.54" y1="797" x2="1593.54" y2="814" stroke="#d81a66" stroke-width="3" stroke-linecap="butt"/>
<line x1="1586.79" y1="797" x2="1600.29" y2="797" stroke="#d81a66" stroke-width="3" stroke-linecap="butt"/>
<line x1="1586.79" y1="814" x2="1600.29" y2="814" stroke="#d81a66" stroke-width="3" stroke-linecap="butt"/>
<line x1="1671.26" y1="750.2" x2="1671.26" y2="778.7" stroke="#d81a66" stroke-width="3" stroke-linecap="butt"/>
<line x1="1664.51" y1="750.2" x2="1678.01" y2="750.2" stroke="#d81a66" stroke-width="3" stroke-linecap="butt"/>
<line x1="1664.51" y1="778.7" x2="1678.01" y2="778.7" stroke="#d81a66" stroke-width="3" stroke-linecap="butt"/>
<line x1="1722.64" y1="692.7" x2="1722.64" y2="735" stroke="#d81a66" stroke-width="3" stroke-linecap="butt"/>
<line x1="1715.89" y1="692.7" x2="1729.39" y2="692.7" stroke="#d81a66" stroke-width="3" stroke-linecap="butt"/>
<line x1="1715.89" y1="735" x2="1729.39" y2="735" stroke="#d81a66" stroke-width="3" stroke-linecap="butt"/>
<rect x="1366" y="836.1" width="16.4" height="15.8" rx="2" fill="#d81a66"/>
<rect x="1456.24" y="833.2" width="16.4" height="15.8" rx="2" fill="#d81a66"/>
<rect x="1495.1" y="831.6" width="16.4" height="15.8" rx="2" fill="#d81a66"/>
<rect x="1533.96" y="819.8" width="16.4" height="15.8" rx="2" fill="#d81a66"/>
<rect x="1585.34" y="797.5" width="16.4" height="15.8" rx="2" fill="#d81a66"/>
<rect x="1624.2" y="776.3" width="16.4" height="15.8" rx="2" fill="#d81a66"/>
<rect x="1663.06" y="755.1" width="16.4" height="15.8" rx="2" fill="#d81a66"/>
<rect x="1714.44" y="705.3" width="16.4" height="15.8" rx="2" fill="#d81a66"/>
<line x1="1542.16" y1="798" x2="1542.16" y2="820.4" stroke="#27297f" stroke-width="3" stroke-linecap="butt"/>
<line x1="1535.41" y1="798" x2="1548.91" y2="798" stroke="#27297f" stroke-width="3" stroke-linecap="butt"/>
<line x1="1535.41" y1="820.4" x2="1548.91" y2="820.4" stroke="#27297f" stroke-width="3" stroke-linecap="butt"/>
<line x1="1671.26" y1="613.6" x2="1671.26" y2="639.6" stroke="#27297f" stroke-width="3" stroke-linecap="butt"/>
<line x1="1664.51" y1="613.6" x2="1678.01" y2="613.6" stroke="#27297f" stroke-width="3" stroke-linecap="butt"/>
<line x1="1664.51" y1="639.6" x2="1678.01" y2="639.6" stroke="#27297f" stroke-width="3" stroke-linecap="butt"/>
<ellipse cx="1374.2" cy="828.8" rx="8.4" ry="8.3" fill="#27297f"/>
<ellipse cx="1464.44" cy="826.6" rx="8.4" ry="8.3" fill="#27297f"/>
<ellipse cx="1503.3" cy="819.4" rx="8.4" ry="8.3" fill="#27297f"/>
<ellipse cx="1542.16" cy="809" rx="8.4" ry="8.3" fill="#27297f"/>
<ellipse cx="1593.54" cy="755.5" rx="8.4" ry="8.3" fill="#27297f"/>
<ellipse cx="1632.4" cy="718.7" rx="8.4" ry="8.3" fill="#27297f"/>
<ellipse cx="1671.26" cy="626.4" rx="8.4" ry="8.3" fill="#27297f"/>
<ellipse cx="1722.64" cy="598.5" rx="8.4" ry="8.3" fill="#27297f"/>
<line x1="1358" y1="542" x2="1395.3" y2="542" stroke="#27297f" stroke-width="3.4" stroke-linecap="butt"/>
<circle cx="1376.9" cy="542" r="7.4" fill="#27297f"/>
<line x1="1358" y1="580.5" x2="1395.3" y2="580.5" stroke="#d81a66" stroke-width="3.4" stroke-linecap="butt"/>
<rect x="1368.7" y="572.7" width="16.3" height="15.6" rx="2" fill="#d81a66"/>
<text transform="matrix(0.24281 0 0 0.24714 1413.46 548.75)" font-family="Liberation Sans, sans-serif" font-size="100" fill="#111" stroke="#111" stroke-width="1.43" stroke-linejoin="round">DU145</text>
<text transform="matrix(0.24650 0 0 0.24366 1413.43 587.26)" font-family="Liberation Sans, sans-serif" font-size="100" fill="#111" stroke="#111" stroke-width="1.43" stroke-linejoin="round">MCF-7</text>
<text transform="matrix(0.20949 0 0 0.24296 1220.16 858.66)" font-family="Liberation Serif, serif" font-size="100" fill="#111" stroke="#111" stroke-width="1.11" stroke-linejoin="round">0</text>
<text transform="matrix(0.20949 0 0 0.24296 1209.69 791.94)" font-family="Liberation Serif, serif" font-size="100" fill="#111" stroke="#111" stroke-width="1.11" stroke-linejoin="round">20</text>
<text transform="matrix(0.20949 0 0 0.24296 1209.69 725.22)" font-family="Liberation Serif, serif" font-size="100" fill="#111" stroke="#111" stroke-width="1.11" stroke-linejoin="round">40</text>
<text transform="matrix(0.20949 0 0 0.24296 1209.69 658.50)" font-family="Liberation Serif, serif" font-size="100" fill="#111" stroke="#111" stroke-width="1.11" stroke-linejoin="round">60</text>
<text transform="matrix(0.20949 0 0 0.24296 1209.69 591.78)" font-family="Liberation Serif, serif" font-size="100" fill="#111" stroke="#111" stroke-width="1.11" stroke-linejoin="round">80</text>
<text transform="matrix(0.20949 0 0 0.24296 1199.21 525.06)" font-family="Liberation Serif, serif" font-size="100" fill="#111" stroke="#111" stroke-width="1.11" stroke-linejoin="round">100</text>
<text transform="matrix(0.22409 0 0 0.22963 1237.86 886.04)" font-family="Liberation Serif, serif" font-size="100" fill="#111" stroke="#111" stroke-width="1.10" stroke-linejoin="round">1</text>
<text transform="matrix(0.22409 0 0 0.22963 1361.14 886.27)" font-family="Liberation Serif, serif" font-size="100" fill="#111" stroke="#111" stroke-width="1.10" stroke-linejoin="round">10</text>
<text transform="matrix(0.22409 0 0 0.22963 1484.63 886.27)" font-family="Liberation Serif, serif" font-size="100" fill="#111" stroke="#111" stroke-width="1.10" stroke-linejoin="round">100</text>
<text transform="matrix(0.22409 0 0 0.22963 1608.13 886.27)" font-family="Liberation Serif, serif" font-size="100" fill="#111" stroke="#111" stroke-width="1.10" stroke-linejoin="round">1000</text>
<text transform="matrix(0.22409 0 0 0.22963 1731.63 886.27)" font-family="Liberation Serif, serif" font-size="100" fill="#111" stroke="#111" stroke-width="1.10" stroke-linejoin="round">10000</text>
<text transform="matrix(0.25408 0 0 0.26667 1398.38 914.00)" font-family="Liberation Serif, serif" font-size="100" fill="#111" stroke="#111" stroke-width="0.96" stroke-linejoin="round">CLV3</text>
<text transform="matrix(0.28253 0 0 0.26667 1477.27 914.00)" font-family="Liberation Serif, serif" font-size="100" fill="#111" stroke="#111" stroke-width="0.91" stroke-linejoin="round">Conc. (nM)</text>
<clipPath id="cpF"><rect x="1100" y="621.5" width="120" height="200"/></clipPath>
<g clip-path="url(#cpF)"><text transform="matrix(0 -0.23554 0.24714 0 1178.45 769.41)" font-family="Liberation Serif, serif" font-size="100" fill="#1a1a1a" stroke="#1a1a1a" stroke-width="2.07" stroke-linejoin="round">Labeled cells (%)</text></g>
</svg></body></html>
